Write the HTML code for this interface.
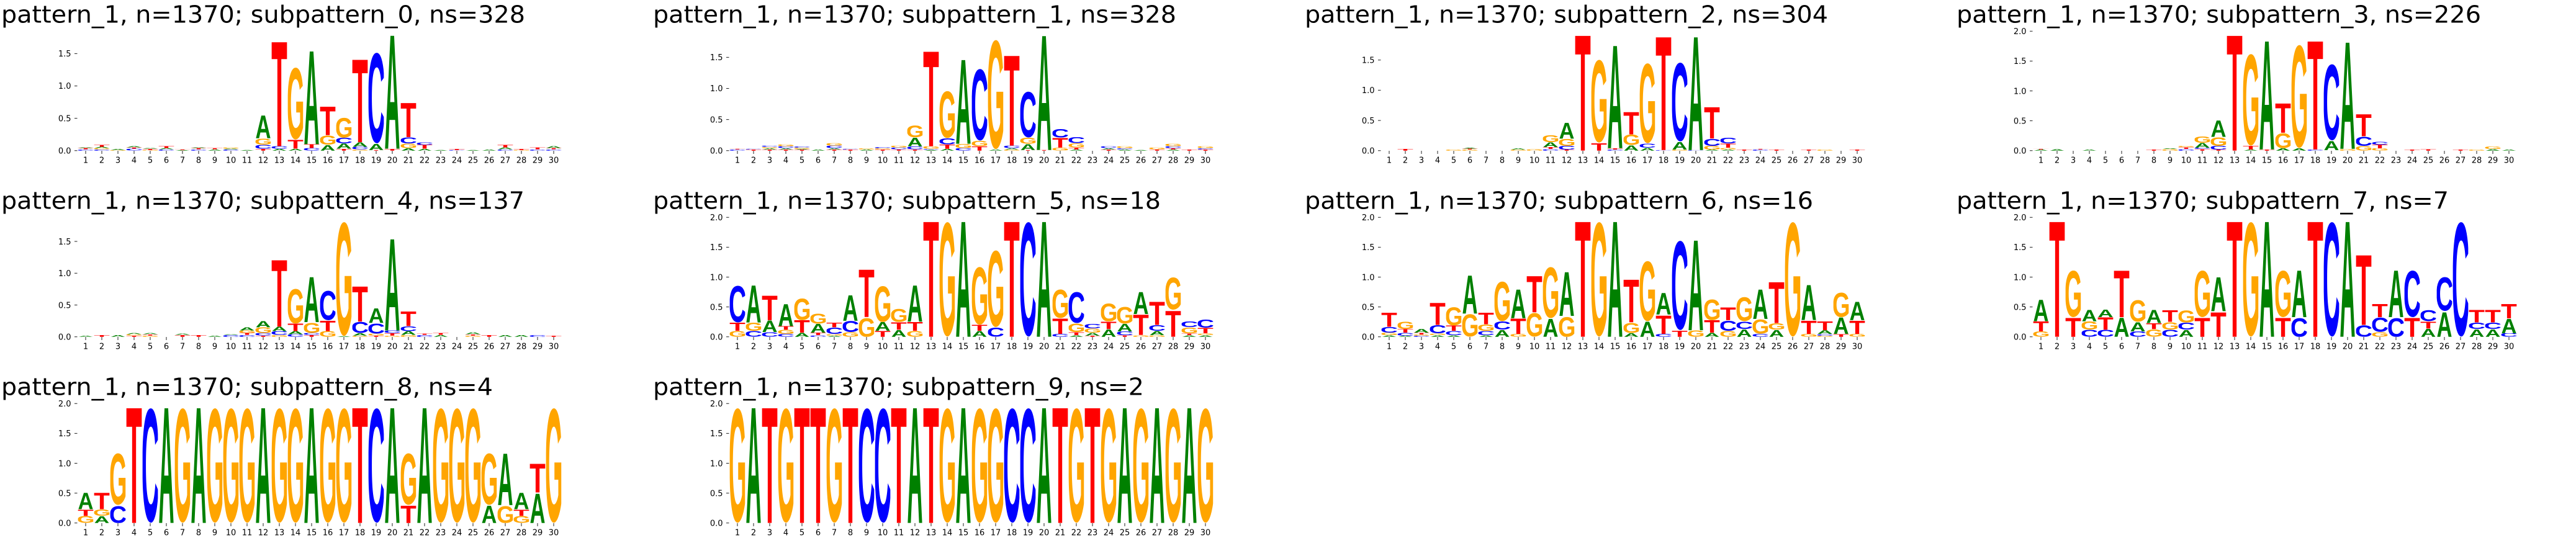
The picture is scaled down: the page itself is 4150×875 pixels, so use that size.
<!DOCTYPE html>
<html><head><meta charset="utf-8"><style>
body{margin:0;background:#fff;width:4150px;height:870px;overflow:hidden}
svg text.ttl{font-family:"DejaVu Sans",sans-serif;font-size:38px;fill:#000}
.yl{font-family:"DejaVu Sans",sans-serif;font-size:13px;fill:#000;text-anchor:end}
.xl text{font-family:"DejaVu Sans",sans-serif;font-size:13px;fill:#000;text-anchor:middle}
.tk{stroke:#222;stroke-width:1;fill:none}
.lg text{font-family:"Liberation Sans",sans-serif;font-weight:bold;font-size:100px}
.lg .A{fill:#008000}.lg .C{fill:#0000ff}.lg .G{fill:#ffa500}.lg .T{fill:#ff0000}
</style></head><body>
<svg width="4150" height="870" viewBox="0 0 4150 870">
<rect width="4150" height="870" fill="#fff"/>

<!-- Panel 1 -->
<g transform="translate(0,0)">
<text class="ttl" x="2" y="36.7" textLength="844" lengthAdjust="spacingAndGlyphs">pattern_1, n=1370; subpattern_0, ns=328</text>
<path class="tk" d="M120,242.8h4.5M120,190.65h4.5M120,138.5h4.5M120,86.35h4.5"/>
<text class="yl" x="114.5" y="247.5">0.0</text><text class="yl" x="114.5" y="195.35">0.5</text><text class="yl" x="114.5" y="143.2">1.0</text><text class="yl" x="114.5" y="91.05">1.5</text>
<path class="tk" d="M138,243v5M164,243v5M190,243v5M216,243v5M242,243v5M268,243v5M294,243v5M320,243v5M346,243v5M372,243v5M398,243v5M424,243v5M450,243v5M476,243v5M502,243v5M528,243v5M554,243v5M580,243v5M606,243v5M632,243v5M658,243v5M684,243v5M710,243v5M736,243v5M762,243v5M788,243v5M814,243v5M840,243v5M866,243v5M892,243v5"/>
<g class="xl"><text x="138" y="262.7">1</text><text x="164" y="262.7">2</text><text x="190" y="262.7">3</text><text x="216" y="262.7">4</text><text x="242" y="262.7">5</text><text x="268" y="262.7">6</text><text x="294" y="262.7">7</text><text x="320" y="262.7">8</text><text x="346" y="262.7">9</text><text x="372" y="262.7">10</text><text x="398" y="262.7">11</text><text x="424" y="262.7">12</text><text x="450" y="262.7">13</text><text x="476" y="262.7">14</text><text x="502" y="262.7">15</text><text x="528" y="262.7">16</text><text x="554" y="262.7">17</text><text x="580" y="262.7">18</text><text x="606" y="262.7">19</text><text x="632" y="262.7">20</text><text x="658" y="262.7">21</text><text x="684" y="262.7">22</text><text x="710" y="262.7">23</text><text x="736" y="262.7">24</text><text x="762" y="262.7">25</text><text x="788" y="262.7">26</text><text x="814" y="262.7">27</text><text x="840" y="262.7">28</text><text x="866" y="262.7">29</text><text x="892" y="262.7">30</text></g>
<g class="lg" transform="translate(112,242.8) scale(26,104.3)">
<svg x=".525" y="-.02" width=".95" height=".02" viewBox="5 -72.8 62 74" preserveAspectRatio="none"><text class="C">C</text></svg>
<svg x=".525" y="-.04" width=".95" height=".02" viewBox="2.4 -71.6 56.2 71.6" preserveAspectRatio="none"><text class="T">T</text></svg>
<svg x=".525" y="-.05" width=".95" height=".01" viewBox="0.5 -71.6 71.2 71.6" preserveAspectRatio="none"><text class="A">A</text></svg>
<svg x="1.525" y="-.02" width=".95" height=".02" viewBox="5 -72.8 62 74" preserveAspectRatio="none"><text class="C">C</text></svg>
<svg x="1.525" y="-.04" width=".95" height=".02" viewBox="5 -72.8 66.6 74" preserveAspectRatio="none"><text class="G">G</text></svg>
<svg x="1.525" y="-.06" width=".95" height=".02" viewBox="0.5 -71.6 71.2 71.6" preserveAspectRatio="none"><text class="A">A</text></svg>
<svg x="1.525" y="-.09" width=".95" height=".03" viewBox="2.4 -71.6 56.2 71.6" preserveAspectRatio="none"><text class="T">T</text></svg>
<svg x="2.525" y="-.01" width=".95" height=".01" viewBox="5 -72.8 66.6 74" preserveAspectRatio="none"><text class="G">G</text></svg>
<svg x="2.525" y="-.03" width=".95" height=".02" viewBox="0.5 -71.6 71.2 71.6" preserveAspectRatio="none"><text class="A">A</text></svg>
<svg x="3.525" y="-.03" width=".95" height=".03" viewBox="5 -72.8 62 74" preserveAspectRatio="none"><text class="C">C</text></svg>
<svg x="3.525" y="-.05" width=".95" height=".02" viewBox="2.4 -71.6 56.2 71.6" preserveAspectRatio="none"><text class="T">T</text></svg>
<svg x="3.525" y="-.07" width=".95" height=".02" viewBox="0.5 -71.6 71.2 71.6" preserveAspectRatio="none"><text class="A">A</text></svg>
<svg x="4.525" y="-.01" width=".95" height=".01" viewBox="5 -72.8 66.6 74" preserveAspectRatio="none"><text class="G">G</text></svg>
<svg x="4.525" y="-.03" width=".95" height=".02" viewBox="2.4 -71.6 56.2 71.6" preserveAspectRatio="none"><text class="T">T</text></svg>
<svg x="4.525" y="-.04" width=".95" height=".01" viewBox="0.5 -71.6 71.2 71.6" preserveAspectRatio="none"><text class="A">A</text></svg>
<svg x="5.525" y="-.02" width=".95" height=".02" viewBox="5 -72.8 62 74" preserveAspectRatio="none"><text class="C">C</text></svg>
<svg x="5.525" y="-.04" width=".95" height=".02" viewBox="0.5 -71.6 71.2 71.6" preserveAspectRatio="none"><text class="A">A</text></svg>
<svg x="5.525" y="-.07" width=".95" height=".03" viewBox="2.4 -71.6 56.2 71.6" preserveAspectRatio="none"><text class="T">T</text></svg>
<svg x="6.525" y="-.01" width=".95" height=".01" viewBox="0.5 -71.6 71.2 71.6" preserveAspectRatio="none"><text class="A">A</text></svg>
<svg x="6.525" y="-.02" width=".95" height=".01" viewBox="2.4 -71.6 56.2 71.6" preserveAspectRatio="none"><text class="T">T</text></svg>
<svg x="7.525" y="-.02" width=".95" height=".02" viewBox="5 -72.8 62 74" preserveAspectRatio="none"><text class="C">C</text></svg>
<svg x="7.525" y="-.04" width=".95" height=".02" viewBox="2.4 -71.6 56.2 71.6" preserveAspectRatio="none"><text class="T">T</text></svg>
<svg x="7.525" y="-.05" width=".95" height=".01" viewBox="0.5 -71.6 71.2 71.6" preserveAspectRatio="none"><text class="A">A</text></svg>
<svg x="8.525" y="-.02" width=".95" height=".02" viewBox="0.5 -71.6 71.2 71.6" preserveAspectRatio="none"><text class="A">A</text></svg>
<svg x="8.525" y="-.04" width=".95" height=".02" viewBox="2.4 -71.6 56.2 71.6" preserveAspectRatio="none"><text class="T">T</text></svg>
<svg x="9.525" y="-.02" width=".95" height=".02" viewBox="5 -72.8 62 74" preserveAspectRatio="none"><text class="C">C</text></svg>
<svg x="9.525" y="-.03" width=".95" height=".01" viewBox="0.5 -71.6 71.2 71.6" preserveAspectRatio="none"><text class="A">A</text></svg>
<svg x="9.525" y="-.05" width=".95" height=".02" viewBox="5 -72.8 66.6 74" preserveAspectRatio="none"><text class="G">G</text></svg>
<svg x="10.525" y="-.01" width=".95" height=".01" viewBox="0.5 -71.6 71.2 71.6" preserveAspectRatio="none"><text class="A">A</text></svg>
<svg x="11.525" y="-.03" width=".95" height=".03" viewBox="2.4 -71.6 56.2 71.6" preserveAspectRatio="none"><text class="T">T</text></svg>
<svg x="11.525" y="-.09" width=".95" height=".06" viewBox="5 -72.8 62 74" preserveAspectRatio="none"><text class="C">C</text></svg>
<svg x="11.525" y="-.19" width=".95" height=".10" viewBox="5 -72.8 66.6 74" preserveAspectRatio="none"><text class="G">G</text></svg>
<svg x="11.525" y="-.55" width=".95" height=".36" viewBox="0.5 -71.6 71.2 71.6" preserveAspectRatio="none"><text class="A">A</text></svg>
<svg x="12.525" y="-.03" width=".95" height=".03" viewBox="0.5 -71.6 71.2 71.6" preserveAspectRatio="none"><text class="A">A</text></svg>
<svg x="12.525" y="-.07" width=".95" height=".04" viewBox="5 -72.8 62 74" preserveAspectRatio="none"><text class="C">C</text></svg>
<svg x="12.525" y="-1.74" width=".95" height="1.67" viewBox="2.4 -71.6 56.2 71.6" preserveAspectRatio="none"><text class="T">T</text></svg>
<svg x="13.525" y="-.03" width=".95" height=".03" viewBox="0.5 -71.6 71.2 71.6" preserveAspectRatio="none"><text class="A">A</text></svg>
<svg x="13.525" y="-.17" width=".95" height=".14" viewBox="2.4 -71.6 56.2 71.6" preserveAspectRatio="none"><text class="T">T</text></svg>
<svg x="13.525" y="-1.33" width=".95" height="1.16" viewBox="5 -72.8 66.6 74" preserveAspectRatio="none"><text class="G">G</text></svg>
<svg x="14.525" y="-.04" width=".95" height=".04" viewBox="5 -72.8 62 74" preserveAspectRatio="none"><text class="C">C</text></svg>
<svg x="14.525" y="-.10" width=".95" height=".06" viewBox="2.4 -71.6 56.2 71.6" preserveAspectRatio="none"><text class="T">T</text></svg>
<svg x="14.525" y="-1.59" width=".95" height="1.49" viewBox="0.5 -71.6 71.2 71.6" preserveAspectRatio="none"><text class="A">A</text></svg>
<svg x="15.525" y="-.09" width=".95" height=".09" viewBox="0.5 -71.6 71.2 71.6" preserveAspectRatio="none"><text class="A">A</text></svg>
<svg x="15.525" y="-.24" width=".95" height=".15" viewBox="5 -72.8 66.6 74" preserveAspectRatio="none"><text class="G">G</text></svg>
<svg x="15.525" y="-.70" width=".95" height=".46" viewBox="2.4 -71.6 56.2 71.6" preserveAspectRatio="none"><text class="T">T</text></svg>
<svg x="16.525" y="-.03" width=".95" height=".03" viewBox="2.4 -71.6 56.2 71.6" preserveAspectRatio="none"><text class="T">T</text></svg>
<svg x="16.525" y="-.11" width=".95" height=".08" viewBox="0.5 -71.6 71.2 71.6" preserveAspectRatio="none"><text class="A">A</text></svg>
<svg x="16.525" y="-.20" width=".95" height=".09" viewBox="5 -72.8 62 74" preserveAspectRatio="none"><text class="C">C</text></svg>
<svg x="16.525" y="-.52" width=".95" height=".32" viewBox="5 -72.8 66.6 74" preserveAspectRatio="none"><text class="G">G</text></svg>
<svg x="17.525" y="-.02" width=".95" height=".02" viewBox="5 -72.8 66.6 74" preserveAspectRatio="none"><text class="G">G</text></svg>
<svg x="17.525" y="-.06" width=".95" height=".04" viewBox="5 -72.8 62 74" preserveAspectRatio="none"><text class="C">C</text></svg>
<svg x="17.525" y="-.13" width=".95" height=".07" viewBox="0.5 -71.6 71.2 71.6" preserveAspectRatio="none"><text class="A">A</text></svg>
<svg x="17.525" y="-1.455" width=".95" height="1.325" viewBox="2.4 -71.6 56.2 71.6" preserveAspectRatio="none"><text class="T">T</text></svg>
<svg x="18.525" y="-.01" width=".95" height=".01" viewBox="2.4 -71.6 56.2 71.6" preserveAspectRatio="none"><text class="T">T</text></svg>
<svg x="18.525" y="-.11" width=".95" height=".10" viewBox="0.5 -71.6 71.2 71.6" preserveAspectRatio="none"><text class="A">A</text></svg>
<svg x="18.525" y="-1.57" width=".95" height="1.46" viewBox="5 -72.8 62 74" preserveAspectRatio="none"><text class="C">C</text></svg>
<svg x="19.525" y="-.03" width=".95" height=".03" viewBox="2.4 -71.6 56.2 71.6" preserveAspectRatio="none"><text class="T">T</text></svg>
<svg x="19.525" y="-1.845" width=".95" height="1.815" viewBox="0.5 -71.6 71.2 71.6" preserveAspectRatio="none"><text class="A">A</text></svg>
<svg x="20.525" y="-.04" width=".95" height=".04" viewBox="0.5 -71.6 71.2 71.6" preserveAspectRatio="none"><text class="A">A</text></svg>
<svg x="20.525" y="-.11" width=".95" height=".07" viewBox="5 -72.8 66.6 74" preserveAspectRatio="none"><text class="G">G</text></svg>
<svg x="20.525" y="-.21" width=".95" height=".10" viewBox="5 -72.8 62 74" preserveAspectRatio="none"><text class="C">C</text></svg>
<svg x="20.525" y="-.755" width=".95" height=".545" viewBox="2.4 -71.6 56.2 71.6" preserveAspectRatio="none"><text class="T">T</text></svg>
<svg x="21.525" y="-.03" width=".95" height=".03" viewBox="0.5 -71.6 71.2 71.6" preserveAspectRatio="none"><text class="A">A</text></svg>
<svg x="21.525" y="-.09" width=".95" height=".06" viewBox="2.4 -71.6 56.2 71.6" preserveAspectRatio="none"><text class="T">T</text></svg>
<svg x="21.525" y="-.13" width=".95" height=".04" viewBox="5 -72.8 62 74" preserveAspectRatio="none"><text class="C">C</text></svg>
<svg x="22.525" y="-.01" width=".95" height=".01" viewBox="0.5 -71.6 71.2 71.6" preserveAspectRatio="none"><text class="A">A</text></svg>
<svg x="23.525" y="-.01" width=".95" height=".01" viewBox="5 -72.8 62 74" preserveAspectRatio="none"><text class="C">C</text></svg>
<svg x="23.525" y="-.03" width=".95" height=".02" viewBox="2.4 -71.6 56.2 71.6" preserveAspectRatio="none"><text class="T">T</text></svg>
<svg x="24.525" y="-.01" width=".95" height=".01" viewBox="0.5 -71.6 71.2 71.6" preserveAspectRatio="none"><text class="A">A</text></svg>
<svg x="25.525" y="-.02" width=".95" height=".02" viewBox="0.5 -71.6 71.2 71.6" preserveAspectRatio="none"><text class="A">A</text></svg>
<svg x="26.525" y="-.02" width=".95" height=".02" viewBox="5 -72.8 62 74" preserveAspectRatio="none"><text class="C">C</text></svg>
<svg x="26.525" y="-.05" width=".95" height=".03" viewBox="0.5 -71.6 71.2 71.6" preserveAspectRatio="none"><text class="A">A</text></svg>
<svg x="26.525" y="-.09" width=".95" height=".04" viewBox="2.4 -71.6 56.2 71.6" preserveAspectRatio="none"><text class="T">T</text></svg>
<svg x="27.525" y="-.01" width=".95" height=".01" viewBox="5 -72.8 66.6 74" preserveAspectRatio="none"><text class="G">G</text></svg>
<svg x="27.525" y="-.03" width=".95" height=".02" viewBox="2.4 -71.6 56.2 71.6" preserveAspectRatio="none"><text class="T">T</text></svg>
<svg x="28.525" y="-.02" width=".95" height=".02" viewBox="5 -72.8 62 74" preserveAspectRatio="none"><text class="C">C</text></svg>
<svg x="28.525" y="-.05" width=".95" height=".03" viewBox="2.4 -71.6 56.2 71.6" preserveAspectRatio="none"><text class="T">T</text></svg>
<svg x="29.525" y="-.02" width=".95" height=".02" viewBox="5 -72.8 62 74" preserveAspectRatio="none"><text class="C">C</text></svg>
<svg x="29.525" y="-.04" width=".95" height=".02" viewBox="2.4 -71.6 56.2 71.6" preserveAspectRatio="none"><text class="T">T</text></svg>
<svg x="29.525" y="-.07" width=".95" height=".03" viewBox="0.5 -71.6 71.2 71.6" preserveAspectRatio="none"><text class="A">A</text></svg>
</g>
</g>

<!-- Panel 2 -->
<g transform="translate(1050,0)">
<text class="ttl" x="2" y="36.7" textLength="843" lengthAdjust="spacingAndGlyphs">pattern_1, n=1370; subpattern_1, ns=328</text>
<path class="tk" d="M120,242.8h4.5M120,192.65h4.5M120,142.5h4.5M120,92.35h4.5"/>
<text class="yl" x="114.5" y="247.5">0.0</text><text class="yl" x="114.5" y="197.35">0.5</text><text class="yl" x="114.5" y="147.2">1.0</text><text class="yl" x="114.5" y="97.05">1.5</text>
<path class="tk" d="M138,243v5M164,243v5M190,243v5M216,243v5M242,243v5M268,243v5M294,243v5M320,243v5M346,243v5M372,243v5M398,243v5M424,243v5M450,243v5M476,243v5M502,243v5M528,243v5M554,243v5M580,243v5M606,243v5M632,243v5M658,243v5M684,243v5M710,243v5M736,243v5M762,243v5M788,243v5M814,243v5M840,243v5M866,243v5M892,243v5"/>
<g class="xl"><text x="138" y="262.7">1</text><text x="164" y="262.7">2</text><text x="190" y="262.7">3</text><text x="216" y="262.7">4</text><text x="242" y="262.7">5</text><text x="268" y="262.7">6</text><text x="294" y="262.7">7</text><text x="320" y="262.7">8</text><text x="346" y="262.7">9</text><text x="372" y="262.7">10</text><text x="398" y="262.7">11</text><text x="424" y="262.7">12</text><text x="450" y="262.7">13</text><text x="476" y="262.7">14</text><text x="502" y="262.7">15</text><text x="528" y="262.7">16</text><text x="554" y="262.7">17</text><text x="580" y="262.7">18</text><text x="606" y="262.7">19</text><text x="632" y="262.7">20</text><text x="658" y="262.7">21</text><text x="684" y="262.7">22</text><text x="710" y="262.7">23</text><text x="736" y="262.7">24</text><text x="762" y="262.7">25</text><text x="788" y="262.7">26</text><text x="814" y="262.7">27</text><text x="840" y="262.7">28</text><text x="866" y="262.7">29</text><text x="892" y="262.7">30</text></g>
<g class="lg" transform="translate(112,242.8) scale(26,100.3)">
<svg x=".525" y="-.02" width=".95" height=".02" viewBox="5 -72.8 62 74" preserveAspectRatio="none"><text class="C">C</text></svg>
<svg x=".525" y="-.03" width=".95" height=".01" viewBox="2.4 -71.6 56.2 71.6" preserveAspectRatio="none"><text class="T">T</text></svg>
<svg x="1.525" y="-.02" width=".95" height=".02" viewBox="2.4 -71.6 56.2 71.6" preserveAspectRatio="none"><text class="T">T</text></svg>
<svg x="1.525" y="-.03" width=".95" height=".01" viewBox="5 -72.8 62 74" preserveAspectRatio="none"><text class="C">C</text></svg>
<svg x="2.525" y="-.02" width=".95" height=".02" viewBox="2.4 -71.6 56.2 71.6" preserveAspectRatio="none"><text class="T">T</text></svg>
<svg x="2.525" y="-.04" width=".95" height=".02" viewBox="0.5 -71.6 71.2 71.6" preserveAspectRatio="none"><text class="A">A</text></svg>
<svg x="2.525" y="-.06" width=".95" height=".02" viewBox="5 -72.8 66.6 74" preserveAspectRatio="none"><text class="G">G</text></svg>
<svg x="2.525" y="-.08" width=".95" height=".02" viewBox="5 -72.8 62 74" preserveAspectRatio="none"><text class="C">C</text></svg>
<svg x="3.525" y="-.02" width=".95" height=".02" viewBox="2.4 -71.6 56.2 71.6" preserveAspectRatio="none"><text class="T">T</text></svg>
<svg x="3.525" y="-.04" width=".95" height=".02" viewBox="0.5 -71.6 71.2 71.6" preserveAspectRatio="none"><text class="A">A</text></svg>
<svg x="3.525" y="-.07" width=".95" height=".03" viewBox="5 -72.8 62 74" preserveAspectRatio="none"><text class="C">C</text></svg>
<svg x="3.525" y="-.10" width=".95" height=".03" viewBox="5 -72.8 66.6 74" preserveAspectRatio="none"><text class="G">G</text></svg>
<svg x="4.525" y="-.02" width=".95" height=".02" viewBox="2.4 -71.6 56.2 71.6" preserveAspectRatio="none"><text class="T">T</text></svg>
<svg x="4.525" y="-.03" width=".95" height=".01" viewBox="0.5 -71.6 71.2 71.6" preserveAspectRatio="none"><text class="A">A</text></svg>
<svg x="4.525" y="-.05" width=".95" height=".02" viewBox="5 -72.8 66.6 74" preserveAspectRatio="none"><text class="G">G</text></svg>
<svg x="4.525" y="-.07" width=".95" height=".02" viewBox="5 -72.8 62 74" preserveAspectRatio="none"><text class="C">C</text></svg>
<svg x="5.525" y="-.02" width=".95" height=".02" viewBox="0.5 -71.6 71.2 71.6" preserveAspectRatio="none"><text class="A">A</text></svg>
<svg x="6.525" y="-.02" width=".95" height=".02" viewBox="2.4 -71.6 56.2 71.6" preserveAspectRatio="none"><text class="T">T</text></svg>
<svg x="6.525" y="-.04" width=".95" height=".02" viewBox="0.5 -71.6 71.2 71.6" preserveAspectRatio="none"><text class="A">A</text></svg>
<svg x="6.525" y="-.08" width=".95" height=".04" viewBox="5 -72.8 62 74" preserveAspectRatio="none"><text class="C">C</text></svg>
<svg x="6.525" y="-.12" width=".95" height=".04" viewBox="5 -72.8 66.6 74" preserveAspectRatio="none"><text class="G">G</text></svg>
<svg x="7.525" y="-.02" width=".95" height=".02" viewBox="2.4 -71.6 56.2 71.6" preserveAspectRatio="none"><text class="T">T</text></svg>
<svg x="7.525" y="-.03" width=".95" height=".01" viewBox="5 -72.8 62 74" preserveAspectRatio="none"><text class="C">C</text></svg>
<svg x="8.525" y="-.02" width=".95" height=".02" viewBox="0.5 -71.6 71.2 71.6" preserveAspectRatio="none"><text class="A">A</text></svg>
<svg x="8.525" y="-.04" width=".95" height=".02" viewBox="5 -72.8 66.6 74" preserveAspectRatio="none"><text class="G">G</text></svg>
<svg x="9.525" y="-.02" width=".95" height=".02" viewBox="2.4 -71.6 56.2 71.6" preserveAspectRatio="none"><text class="T">T</text></svg>
<svg x="9.525" y="-.04" width=".95" height=".02" viewBox="5 -72.8 66.6 74" preserveAspectRatio="none"><text class="G">G</text></svg>
<svg x="9.525" y="-.06" width=".95" height=".02" viewBox="5 -72.8 62 74" preserveAspectRatio="none"><text class="C">C</text></svg>
<svg x="10.525" y="-.02" width=".95" height=".02" viewBox="2.4 -71.6 56.2 71.6" preserveAspectRatio="none"><text class="T">T</text></svg>
<svg x="10.525" y="-.05" width=".95" height=".03" viewBox="5 -72.8 62 74" preserveAspectRatio="none"><text class="C">C</text></svg>
<svg x="10.525" y="-.08" width=".95" height=".03" viewBox="5 -72.8 66.6 74" preserveAspectRatio="none"><text class="G">G</text></svg>
<svg x="11.525" y="-.02" width=".95" height=".02" viewBox="2.4 -71.6 56.2 71.6" preserveAspectRatio="none"><text class="T">T</text></svg>
<svg x="11.525" y="-.07" width=".95" height=".05" viewBox="5 -72.8 62 74" preserveAspectRatio="none"><text class="C">C</text></svg>
<svg x="11.525" y="-.216" width=".95" height=".146" viewBox="0.5 -71.6 71.2 71.6" preserveAspectRatio="none"><text class="A">A</text></svg>
<svg x="11.525" y="-.415" width=".95" height=".199" viewBox="5 -72.8 66.6 74" preserveAspectRatio="none"><text class="G">G</text></svg>
<svg x="12.525" y="-.015" width=".95" height=".015" viewBox="0.5 -71.6 71.2 71.6" preserveAspectRatio="none"><text class="A">A</text></svg>
<svg x="12.525" y="-.03" width=".95" height=".015" viewBox="5 -72.8 62 74" preserveAspectRatio="none"><text class="C">C</text></svg>
<svg x="12.525" y="-.07" width=".95" height=".04" viewBox="5 -72.8 66.6 74" preserveAspectRatio="none"><text class="G">G</text></svg>
<svg x="12.525" y="-1.65" width=".95" height="1.58" viewBox="2.4 -71.6 56.2 71.6" preserveAspectRatio="none"><text class="T">T</text></svg>
<svg x="13.525" y="-.03" width=".95" height=".03" viewBox="0.5 -71.6 71.2 71.6" preserveAspectRatio="none"><text class="A">A</text></svg>
<svg x="13.525" y="-.10" width=".95" height=".07" viewBox="2.4 -71.6 56.2 71.6" preserveAspectRatio="none"><text class="T">T</text></svg>
<svg x="13.525" y="-.20" width=".95" height=".10" viewBox="5 -72.8 62 74" preserveAspectRatio="none"><text class="C">C</text></svg>
<svg x="13.525" y="-.99" width=".95" height=".79" viewBox="5 -72.8 66.6 74" preserveAspectRatio="none"><text class="G">G</text></svg>
<svg x="14.525" y="-.04" width=".95" height=".04" viewBox="5 -72.8 62 74" preserveAspectRatio="none"><text class="C">C</text></svg>
<svg x="14.525" y="-.11" width=".95" height=".07" viewBox="5 -72.8 66.6 74" preserveAspectRatio="none"><text class="G">G</text></svg>
<svg x="14.525" y="-1.51" width=".95" height="1.40" viewBox="0.5 -71.6 71.2 71.6" preserveAspectRatio="none"><text class="A">A</text></svg>
<svg x="15.525" y="-.07" width=".95" height=".07" viewBox="2.4 -71.6 56.2 71.6" preserveAspectRatio="none"><text class="T">T</text></svg>
<svg x="15.525" y="-.16" width=".95" height=".09" viewBox="5 -72.8 66.6 74" preserveAspectRatio="none"><text class="G">G</text></svg>
<svg x="15.525" y="-1.36" width=".95" height="1.20" viewBox="5 -72.8 62 74" preserveAspectRatio="none"><text class="C">C</text></svg>
<svg x="16.525" y="-.02" width=".95" height=".02" viewBox="0.5 -71.6 71.2 71.6" preserveAspectRatio="none"><text class="A">A</text></svg>
<svg x="16.525" y="-1.85" width=".95" height="1.83" viewBox="5 -72.8 66.6 74" preserveAspectRatio="none"><text class="G">G</text></svg>
<svg x="17.525" y="-.02" width=".95" height=".02" viewBox="5 -72.8 66.6 74" preserveAspectRatio="none"><text class="G">G</text></svg>
<svg x="17.525" y="-.04" width=".95" height=".02" viewBox="0.5 -71.6 71.2 71.6" preserveAspectRatio="none"><text class="A">A</text></svg>
<svg x="17.525" y="-.08" width=".95" height=".04" viewBox="5 -72.8 62 74" preserveAspectRatio="none"><text class="C">C</text></svg>
<svg x="17.525" y="-1.58" width=".95" height="1.50" viewBox="2.4 -71.6 56.2 71.6" preserveAspectRatio="none"><text class="T">T</text></svg>
<svg x="18.525" y="-.01" width=".95" height=".01" viewBox="2.4 -71.6 56.2 71.6" preserveAspectRatio="none"><text class="T">T</text></svg>
<svg x="18.525" y="-.11" width=".95" height=".10" viewBox="0.5 -71.6 71.2 71.6" preserveAspectRatio="none"><text class="A">A</text></svg>
<svg x="18.525" y="-.21" width=".95" height=".10" viewBox="5 -72.8 66.6 74" preserveAspectRatio="none"><text class="G">G</text></svg>
<svg x="18.525" y="-.98" width=".95" height=".77" viewBox="5 -72.8 62 74" preserveAspectRatio="none"><text class="C">C</text></svg>
<svg x="19.525" y="-.01" width=".95" height=".01" viewBox="2.4 -71.6 56.2 71.6" preserveAspectRatio="none"><text class="T">T</text></svg>
<svg x="19.525" y="-1.915" width=".95" height="1.905" viewBox="0.5 -71.6 71.2 71.6" preserveAspectRatio="none"><text class="A">A</text></svg>
<svg x="20.525" y="-.05" width=".95" height=".05" viewBox="5 -72.8 66.6 74" preserveAspectRatio="none"><text class="G">G</text></svg>
<svg x="20.525" y="-.21" width=".95" height=".16" viewBox="2.4 -71.6 56.2 71.6" preserveAspectRatio="none"><text class="T">T</text></svg>
<svg x="20.525" y="-.35" width=".95" height=".14" viewBox="5 -72.8 62 74" preserveAspectRatio="none"><text class="C">C</text></svg>
<svg x="21.525" y="-.02" width=".95" height=".02" viewBox="0.5 -71.6 71.2 71.6" preserveAspectRatio="none"><text class="A">A</text></svg>
<svg x="21.525" y="-.05" width=".95" height=".03" viewBox="2.4 -71.6 56.2 71.6" preserveAspectRatio="none"><text class="T">T</text></svg>
<svg x="21.525" y="-.12" width=".95" height=".07" viewBox="5 -72.8 66.6 74" preserveAspectRatio="none"><text class="G">G</text></svg>
<svg x="21.525" y="-.22" width=".95" height=".10" viewBox="5 -72.8 62 74" preserveAspectRatio="none"><text class="C">C</text></svg>
<svg x="23.525" y="-.02" width=".95" height=".02" viewBox="2.4 -71.6 56.2 71.6" preserveAspectRatio="none"><text class="T">T</text></svg>
<svg x="23.525" y="-.04" width=".95" height=".02" viewBox="0.5 -71.6 71.2 71.6" preserveAspectRatio="none"><text class="A">A</text></svg>
<svg x="23.525" y="-.07" width=".95" height=".03" viewBox="5 -72.8 62 74" preserveAspectRatio="none"><text class="C">C</text></svg>
<svg x="24.525" y="-.02" width=".95" height=".02" viewBox="0.5 -71.6 71.2 71.6" preserveAspectRatio="none"><text class="A">A</text></svg>
<svg x="24.525" y="-.04" width=".95" height=".02" viewBox="5 -72.8 62 74" preserveAspectRatio="none"><text class="C">C</text></svg>
<svg x="24.525" y="-.07" width=".95" height=".03" viewBox="5 -72.8 66.6 74" preserveAspectRatio="none"><text class="G">G</text></svg>
<svg x="25.525" y="-.01" width=".95" height=".01" viewBox="0.5 -71.6 71.2 71.6" preserveAspectRatio="none"><text class="A">A</text></svg>
<svg x="26.525" y="-.02" width=".95" height=".02" viewBox="2.4 -71.6 56.2 71.6" preserveAspectRatio="none"><text class="T">T</text></svg>
<svg x="26.525" y="-.05" width=".95" height=".03" viewBox="5 -72.8 66.6 74" preserveAspectRatio="none"><text class="G">G</text></svg>
<svg x="27.525" y="-.02" width=".95" height=".02" viewBox="0.5 -71.6 71.2 71.6" preserveAspectRatio="none"><text class="A">A</text></svg>
<svg x="27.525" y="-.04" width=".95" height=".02" viewBox="2.4 -71.6 56.2 71.6" preserveAspectRatio="none"><text class="T">T</text></svg>
<svg x="27.525" y="-.07" width=".95" height=".03" viewBox="5 -72.8 62 74" preserveAspectRatio="none"><text class="C">C</text></svg>
<svg x="27.525" y="-.11" width=".95" height=".04" viewBox="5 -72.8 66.6 74" preserveAspectRatio="none"><text class="G">G</text></svg>
<svg x="28.525" y="-.02" width=".95" height=".02" viewBox="2.4 -71.6 56.2 71.6" preserveAspectRatio="none"><text class="T">T</text></svg>
<svg x="29.525" y="-.02" width=".95" height=".02" viewBox="2.4 -71.6 56.2 71.6" preserveAspectRatio="none"><text class="T">T</text></svg>
<svg x="29.525" y="-.04" width=".95" height=".02" viewBox="5 -72.8 62 74" preserveAspectRatio="none"><text class="C">C</text></svg>
<svg x="29.525" y="-.07" width=".95" height=".03" viewBox="5 -72.8 66.6 74" preserveAspectRatio="none"><text class="G">G</text></svg>
</g>
</g>

<!-- Panel 3 -->
<g transform="translate(2100,0)">
<text class="ttl" x="2" y="36.7" textLength="843" lengthAdjust="spacingAndGlyphs">pattern_1, n=1370; subpattern_2, ns=304</text>
<path class="tk" d="M120,242.8h4.5M120,194.1h4.5M120,145.4h4.5M120,96.7h4.5"/>
<text class="yl" x="114.5" y="247.5">0.0</text><text class="yl" x="114.5" y="198.8">0.5</text><text class="yl" x="114.5" y="150.1">1.0</text><text class="yl" x="114.5" y="101.4">1.5</text>
<path class="tk" d="M138,243v5M164,243v5M190,243v5M216,243v5M242,243v5M268,243v5M294,243v5M320,243v5M346,243v5M372,243v5M398,243v5M424,243v5M450,243v5M476,243v5M502,243v5M528,243v5M554,243v5M580,243v5M606,243v5M632,243v5M658,243v5M684,243v5M710,243v5M736,243v5M762,243v5M788,243v5M814,243v5M840,243v5M866,243v5M892,243v5"/>
<g class="xl"><text x="138" y="262.7">1</text><text x="164" y="262.7">2</text><text x="190" y="262.7">3</text><text x="216" y="262.7">4</text><text x="242" y="262.7">5</text><text x="268" y="262.7">6</text><text x="294" y="262.7">7</text><text x="320" y="262.7">8</text><text x="346" y="262.7">9</text><text x="372" y="262.7">10</text><text x="398" y="262.7">11</text><text x="424" y="262.7">12</text><text x="450" y="262.7">13</text><text x="476" y="262.7">14</text><text x="502" y="262.7">15</text><text x="528" y="262.7">16</text><text x="554" y="262.7">17</text><text x="580" y="262.7">18</text><text x="606" y="262.7">19</text><text x="632" y="262.7">20</text><text x="658" y="262.7">21</text><text x="684" y="262.7">22</text><text x="710" y="262.7">23</text><text x="736" y="262.7">24</text><text x="762" y="262.7">25</text><text x="788" y="262.7">26</text><text x="814" y="262.7">27</text><text x="840" y="262.7">28</text><text x="866" y="262.7">29</text><text x="892" y="262.7">30</text></g>
<g class="lg" transform="translate(112,242.8) scale(26,97.4)">
<svg x="1.525" y="-.03" width=".95" height=".03" viewBox="2.4 -71.6 56.2 71.6" preserveAspectRatio="none"><text class="T">T</text></svg>
<svg x="4.525" y="-.02" width=".95" height=".02" viewBox="5 -72.8 66.6 74" preserveAspectRatio="none"><text class="G">G</text></svg>
<svg x="5.525" y="-.02" width=".95" height=".02" viewBox="5 -72.8 66.6 74" preserveAspectRatio="none"><text class="G">G</text></svg>
<svg x="5.525" y="-.035" width=".95" height=".015" viewBox="2.4 -71.6 56.2 71.6" preserveAspectRatio="none"><text class="T">T</text></svg>
<svg x="5.525" y="-.05" width=".95" height=".015" viewBox="0.5 -71.6 71.2 71.6" preserveAspectRatio="none"><text class="A">A</text></svg>
<svg x="8.525" y="-.02" width=".95" height=".02" viewBox="5 -72.8 66.6 74" preserveAspectRatio="none"><text class="G">G</text></svg>
<svg x="8.525" y="-.04" width=".95" height=".02" viewBox="0.5 -71.6 71.2 71.6" preserveAspectRatio="none"><text class="A">A</text></svg>
<svg x="9.525" y="-.03" width=".95" height=".03" viewBox="5 -72.8 66.6 74" preserveAspectRatio="none"><text class="G">G</text></svg>
<svg x="10.525" y="-.03" width=".95" height=".03" viewBox="5 -72.8 62 74" preserveAspectRatio="none"><text class="C">C</text></svg>
<svg x="10.525" y="-.06" width=".95" height=".03" viewBox="2.4 -71.6 56.2 71.6" preserveAspectRatio="none"><text class="T">T</text></svg>
<svg x="10.525" y="-.14" width=".95" height=".08" viewBox="0.5 -71.6 71.2 71.6" preserveAspectRatio="none"><text class="A">A</text></svg>
<svg x="10.525" y="-.26" width=".95" height=".12" viewBox="5 -72.8 66.6 74" preserveAspectRatio="none"><text class="G">G</text></svg>
<svg x="11.525" y="-.02" width=".95" height=".02" viewBox="2.4 -71.6 56.2 71.6" preserveAspectRatio="none"><text class="T">T</text></svg>
<svg x="11.525" y="-.08" width=".95" height=".06" viewBox="5 -72.8 62 74" preserveAspectRatio="none"><text class="C">C</text></svg>
<svg x="11.525" y="-.20" width=".95" height=".12" viewBox="5 -72.8 66.6 74" preserveAspectRatio="none"><text class="G">G</text></svg>
<svg x="11.525" y="-.47" width=".95" height=".27" viewBox="0.5 -71.6 71.2 71.6" preserveAspectRatio="none"><text class="A">A</text></svg>
<svg x="12.525" y="-1.976" width=".95" height="1.976" viewBox="2.4 -71.6 56.2 71.6" preserveAspectRatio="none"><text class="T">T</text></svg>
<svg x="13.525" y="-.13" width=".95" height=".13" viewBox="2.4 -71.6 56.2 71.6" preserveAspectRatio="none"><text class="T">T</text></svg>
<svg x="13.525" y="-1.56" width=".95" height="1.43" viewBox="5 -72.8 66.6 74" preserveAspectRatio="none"><text class="G">G</text></svg>
<svg x="14.525" y="-.02" width=".95" height=".02" viewBox="5 -72.8 62 74" preserveAspectRatio="none"><text class="C">C</text></svg>
<svg x="14.525" y="-.04" width=".95" height=".02" viewBox="2.4 -71.6 56.2 71.6" preserveAspectRatio="none"><text class="T">T</text></svg>
<svg x="14.525" y="-1.80" width=".95" height="1.76" viewBox="0.5 -71.6 71.2 71.6" preserveAspectRatio="none"><text class="A">A</text></svg>
<svg x="15.525" y="-.09" width=".95" height=".09" viewBox="0.5 -71.6 71.2 71.6" preserveAspectRatio="none"><text class="A">A</text></svg>
<svg x="15.525" y="-.27" width=".95" height=".18" viewBox="5 -72.8 66.6 74" preserveAspectRatio="none"><text class="G">G</text></svg>
<svg x="15.525" y="-.65" width=".95" height=".38" viewBox="2.4 -71.6 56.2 71.6" preserveAspectRatio="none"><text class="T">T</text></svg>
<svg x="16.525" y="-.05" width=".95" height=".05" viewBox="0.5 -71.6 71.2 71.6" preserveAspectRatio="none"><text class="A">A</text></svg>
<svg x="16.525" y="-.12" width=".95" height=".07" viewBox="5 -72.8 62 74" preserveAspectRatio="none"><text class="C">C</text></svg>
<svg x="16.525" y="-1.5" width=".95" height="1.38" viewBox="5 -72.8 66.6 74" preserveAspectRatio="none"><text class="G">G</text></svg>
<svg x="17.525" y="-.01" width=".95" height=".01" viewBox="5 -72.8 62 74" preserveAspectRatio="none"><text class="C">C</text></svg>
<svg x="17.525" y="-1.95" width=".95" height="1.94" viewBox="2.4 -71.6 56.2 71.6" preserveAspectRatio="none"><text class="T">T</text></svg>
<svg x="18.525" y="-.02" width=".95" height=".02" viewBox="5 -72.8 66.6 74" preserveAspectRatio="none"><text class="G">G</text></svg>
<svg x="18.525" y="-.15" width=".95" height=".13" viewBox="0.5 -71.6 71.2 71.6" preserveAspectRatio="none"><text class="A">A</text></svg>
<svg x="18.525" y="-1.51" width=".95" height="1.36" viewBox="5 -72.8 62 74" preserveAspectRatio="none"><text class="C">C</text></svg>
<svg x="19.525" y="-.01" width=".95" height=".01" viewBox="5 -72.8 62 74" preserveAspectRatio="none"><text class="C">C</text></svg>
<svg x="19.525" y="-1.95" width=".95" height="1.94" viewBox="0.5 -71.6 71.2 71.6" preserveAspectRatio="none"><text class="A">A</text></svg>
<svg x="20.525" y="-.02" width=".95" height=".02" viewBox="0.5 -71.6 71.2 71.6" preserveAspectRatio="none"><text class="A">A</text></svg>
<svg x="20.525" y="-.08" width=".95" height=".06" viewBox="5 -72.8 66.6 74" preserveAspectRatio="none"><text class="G">G</text></svg>
<svg x="20.525" y="-.20" width=".95" height=".12" viewBox="5 -72.8 62 74" preserveAspectRatio="none"><text class="C">C</text></svg>
<svg x="20.525" y="-.74" width=".95" height=".54" viewBox="2.4 -71.6 56.2 71.6" preserveAspectRatio="none"><text class="T">T</text></svg>
<svg x="21.525" y="-.02" width=".95" height=".02" viewBox="0.5 -71.6 71.2 71.6" preserveAspectRatio="none"><text class="A">A</text></svg>
<svg x="21.525" y="-.05" width=".95" height=".03" viewBox="5 -72.8 66.6 74" preserveAspectRatio="none"><text class="G">G</text></svg>
<svg x="21.525" y="-.12" width=".95" height=".07" viewBox="2.4 -71.6 56.2 71.6" preserveAspectRatio="none"><text class="T">T</text></svg>
<svg x="21.525" y="-.22" width=".95" height=".10" viewBox="5 -72.8 62 74" preserveAspectRatio="none"><text class="C">C</text></svg>
<svg x="22.525" y="-.02" width=".95" height=".02" viewBox="2.4 -71.6 56.2 71.6" preserveAspectRatio="none"><text class="T">T</text></svg>
<svg x="23.525" y="-.02" width=".95" height=".02" viewBox="5 -72.8 62 74" preserveAspectRatio="none"><text class="C">C</text></svg>
<svg x="23.525" y="-.03" width=".95" height=".01" viewBox="2.4 -71.6 56.2 71.6" preserveAspectRatio="none"><text class="T">T</text></svg>
<svg x="24.525" y="-.02" width=".95" height=".02" viewBox="2.4 -71.6 56.2 71.6" preserveAspectRatio="none"><text class="T">T</text></svg>
<svg x="26.525" y="-.02" width=".95" height=".02" viewBox="2.4 -71.6 56.2 71.6" preserveAspectRatio="none"><text class="T">T</text></svg>
<svg x="27.525" y="-.02" width=".95" height=".02" viewBox="5 -72.8 66.6 74" preserveAspectRatio="none"><text class="G">G</text></svg>
<svg x="29.525" y="-.02" width=".95" height=".02" viewBox="2.4 -71.6 56.2 71.6" preserveAspectRatio="none"><text class="T">T</text></svg>
</g>
</g>

<!-- Panel 4 -->
<g transform="translate(3150,0)">
<text class="ttl" x="2" y="36.7" textLength="845" lengthAdjust="spacingAndGlyphs">pattern_1, n=1370; subpattern_3, ns=226</text>
<path class="tk" d="M120,242.8h4.5M120,194.68h4.5M120,146.55h4.5M120,98.43h4.5M120,50.3h4.5"/>
<text class="yl" x="114.5" y="247.5">0.0</text><text class="yl" x="114.5" y="199.38">0.5</text><text class="yl" x="114.5" y="151.25">1.0</text><text class="yl" x="114.5" y="103.13">1.5</text><text class="yl" x="114.5" y="55">2.0</text>
<path class="tk" d="M138,243v5M164,243v5M190,243v5M216,243v5M242,243v5M268,243v5M294,243v5M320,243v5M346,243v5M372,243v5M398,243v5M424,243v5M450,243v5M476,243v5M502,243v5M528,243v5M554,243v5M580,243v5M606,243v5M632,243v5M658,243v5M684,243v5M710,243v5M736,243v5M762,243v5M788,243v5M814,243v5M840,243v5M866,243v5M892,243v5"/>
<g class="xl"><text x="138" y="262.7">1</text><text x="164" y="262.7">2</text><text x="190" y="262.7">3</text><text x="216" y="262.7">4</text><text x="242" y="262.7">5</text><text x="268" y="262.7">6</text><text x="294" y="262.7">7</text><text x="320" y="262.7">8</text><text x="346" y="262.7">9</text><text x="372" y="262.7">10</text><text x="398" y="262.7">11</text><text x="424" y="262.7">12</text><text x="450" y="262.7">13</text><text x="476" y="262.7">14</text><text x="502" y="262.7">15</text><text x="528" y="262.7">16</text><text x="554" y="262.7">17</text><text x="580" y="262.7">18</text><text x="606" y="262.7">19</text><text x="632" y="262.7">20</text><text x="658" y="262.7">21</text><text x="684" y="262.7">22</text><text x="710" y="262.7">23</text><text x="736" y="262.7">24</text><text x="762" y="262.7">25</text><text x="788" y="262.7">26</text><text x="814" y="262.7">27</text><text x="840" y="262.7">28</text><text x="866" y="262.7">29</text><text x="892" y="262.7">30</text></g>
<g class="lg" transform="translate(112,242.8) scale(26,96.25)">
<svg x=".525" y="-.02" width=".95" height=".02" viewBox="0.5 -71.6 71.2 71.6" preserveAspectRatio="none"><text class="A">A</text></svg>
<svg x=".525" y="-.03" width=".95" height=".01" viewBox="2.4 -71.6 56.2 71.6" preserveAspectRatio="none"><text class="T">T</text></svg>
<svg x="1.525" y="-.03" width=".95" height=".03" viewBox="0.5 -71.6 71.2 71.6" preserveAspectRatio="none"><text class="A">A</text></svg>
<svg x="3.525" y="-.02" width=".95" height=".02" viewBox="0.5 -71.6 71.2 71.6" preserveAspectRatio="none"><text class="A">A</text></svg>
<svg x="7.525" y="-.02" width=".95" height=".02" viewBox="2.4 -71.6 56.2 71.6" preserveAspectRatio="none"><text class="T">T</text></svg>
<svg x="8.525" y="-.03" width=".95" height=".03" viewBox="5 -72.8 66.6 74" preserveAspectRatio="none"><text class="G">G</text></svg>
<svg x="8.525" y="-.04" width=".95" height=".01" viewBox="0.5 -71.6 71.2 71.6" preserveAspectRatio="none"><text class="A">A</text></svg>
<svg x="9.525" y="-.03" width=".95" height=".03" viewBox="5 -72.8 62 74" preserveAspectRatio="none"><text class="C">C</text></svg>
<svg x="9.525" y="-.06" width=".95" height=".03" viewBox="2.4 -71.6 56.2 71.6" preserveAspectRatio="none"><text class="T">T</text></svg>
<svg x="9.525" y="-.08" width=".95" height=".02" viewBox="5 -72.8 66.6 74" preserveAspectRatio="none"><text class="G">G</text></svg>
<svg x="10.525" y="-.03" width=".95" height=".03" viewBox="2.4 -71.6 56.2 71.6" preserveAspectRatio="none"><text class="T">T</text></svg>
<svg x="10.525" y="-.05" width=".95" height=".02" viewBox="5 -72.8 62 74" preserveAspectRatio="none"><text class="C">C</text></svg>
<svg x="10.525" y="-.13" width=".95" height=".08" viewBox="0.5 -71.6 71.2 71.6" preserveAspectRatio="none"><text class="A">A</text></svg>
<svg x="10.525" y="-.24" width=".95" height=".11" viewBox="5 -72.8 66.6 74" preserveAspectRatio="none"><text class="G">G</text></svg>
<svg x="11.525" y="-.02" width=".95" height=".02" viewBox="2.4 -71.6 56.2 71.6" preserveAspectRatio="none"><text class="T">T</text></svg>
<svg x="11.525" y="-.08" width=".95" height=".06" viewBox="5 -72.8 62 74" preserveAspectRatio="none"><text class="C">C</text></svg>
<svg x="11.525" y="-.23" width=".95" height=".15" viewBox="5 -72.8 66.6 74" preserveAspectRatio="none"><text class="G">G</text></svg>
<svg x="11.525" y="-.51" width=".95" height=".28" viewBox="0.5 -71.6 71.2 71.6" preserveAspectRatio="none"><text class="A">A</text></svg>
<svg x="12.525" y="-2" width=".95" height="2" viewBox="2.4 -71.6 56.2 71.6" preserveAspectRatio="none"><text class="T">T</text></svg>
<svg x="13.525" y="-.02" width=".95" height=".02" viewBox="0.5 -71.6 71.2 71.6" preserveAspectRatio="none"><text class="A">A</text></svg>
<svg x="13.525" y="-.08" width=".95" height=".06" viewBox="2.4 -71.6 56.2 71.6" preserveAspectRatio="none"><text class="T">T</text></svg>
<svg x="13.525" y="-1.68" width=".95" height="1.60" viewBox="5 -72.8 66.6 74" preserveAspectRatio="none"><text class="G">G</text></svg>
<svg x="14.525" y="-.02" width=".95" height=".02" viewBox="2.4 -71.6 56.2 71.6" preserveAspectRatio="none"><text class="T">T</text></svg>
<svg x="14.525" y="-1.9" width=".95" height="1.88" viewBox="0.5 -71.6 71.2 71.6" preserveAspectRatio="none"><text class="A">A</text></svg>
<svg x="15.525" y="-.04" width=".95" height=".04" viewBox="0.5 -71.6 71.2 71.6" preserveAspectRatio="none"><text class="A">A</text></svg>
<svg x="15.525" y="-.30" width=".95" height=".26" viewBox="5 -72.8 66.6 74" preserveAspectRatio="none"><text class="G">G</text></svg>
<svg x="15.525" y="-.81" width=".95" height=".51" viewBox="2.4 -71.6 56.2 71.6" preserveAspectRatio="none"><text class="T">T</text></svg>
<svg x="16.525" y="-.04" width=".95" height=".04" viewBox="0.5 -71.6 71.2 71.6" preserveAspectRatio="none"><text class="A">A</text></svg>
<svg x="16.525" y="-1.84" width=".95" height="1.80" viewBox="5 -72.8 66.6 74" preserveAspectRatio="none"><text class="G">G</text></svg>
<svg x="17.525" y="-.02" width=".95" height=".02" viewBox="5 -72.8 62 74" preserveAspectRatio="none"><text class="C">C</text></svg>
<svg x="17.525" y="-1.9" width=".95" height="1.88" viewBox="2.4 -71.6 56.2 71.6" preserveAspectRatio="none"><text class="T">T</text></svg>
<svg x="18.525" y="-.17" width=".95" height=".16" viewBox="0.5 -71.6 71.2 71.6" preserveAspectRatio="none"><text class="A">A</text></svg>
<svg x="18.525" y="-1.5" width=".95" height="1.33" viewBox="5 -72.8 62 74" preserveAspectRatio="none"><text class="C">C</text></svg>
<svg x="19.525" y="-.03" width=".95" height=".03" viewBox="5 -72.8 66.6 74" preserveAspectRatio="none"><text class="G">G</text></svg>
<svg x="19.525" y="-1.88" width=".95" height="1.85" viewBox="0.5 -71.6 71.2 71.6" preserveAspectRatio="none"><text class="A">A</text></svg>
<svg x="20.525" y="-.08" width=".95" height=".08" viewBox="5 -72.8 66.6 74" preserveAspectRatio="none"><text class="G">G</text></svg>
<svg x="20.525" y="-.24" width=".95" height=".16" viewBox="5 -72.8 62 74" preserveAspectRatio="none"><text class="C">C</text></svg>
<svg x="20.525" y="-.62" width=".95" height=".38" viewBox="2.4 -71.6 56.2 71.6" preserveAspectRatio="none"><text class="T">T</text></svg>
<svg x="21.525" y="-.04" width=".95" height=".04" viewBox="5 -72.8 66.6 74" preserveAspectRatio="none"><text class="G">G</text></svg>
<svg x="21.525" y="-.10" width=".95" height=".06" viewBox="2.4 -71.6 56.2 71.6" preserveAspectRatio="none"><text class="T">T</text></svg>
<svg x="21.525" y="-.15" width=".95" height=".05" viewBox="5 -72.8 62 74" preserveAspectRatio="none"><text class="C">C</text></svg>
<svg x="23.525" y="-.02" width=".95" height=".02" viewBox="2.4 -71.6 56.2 71.6" preserveAspectRatio="none"><text class="T">T</text></svg>
<svg x="24.525" y="-.03" width=".95" height=".03" viewBox="2.4 -71.6 56.2 71.6" preserveAspectRatio="none"><text class="T">T</text></svg>
<svg x="26.525" y="-.02" width=".95" height=".02" viewBox="2.4 -71.6 56.2 71.6" preserveAspectRatio="none"><text class="T">T</text></svg>
<svg x="27.525" y="-.02" width=".95" height=".02" viewBox="5 -72.8 66.6 74" preserveAspectRatio="none"><text class="G">G</text></svg>
<svg x="28.525" y="-.03" width=".95" height=".03" viewBox="0.5 -71.6 71.2 71.6" preserveAspectRatio="none"><text class="A">A</text></svg>
<svg x="28.525" y="-.07" width=".95" height=".04" viewBox="5 -72.8 66.6 74" preserveAspectRatio="none"><text class="G">G</text></svg>
<svg x="29.525" y="-.02" width=".95" height=".02" viewBox="0.5 -71.6 71.2 71.6" preserveAspectRatio="none"><text class="A">A</text></svg>
</g>
</g>

<!-- Panel 5 -->
<g transform="translate(0,300)">
<text class="ttl" x="2" y="36.7" textLength="843" lengthAdjust="spacingAndGlyphs">pattern_1, n=1370; subpattern_4, ns=137</text>
<path class="tk" d="M120,242.8h4.5M120,191.55h4.5M120,140.3h4.5M120,89.05h4.5"/>
<text class="yl" x="114.5" y="247.5">0.0</text><text class="yl" x="114.5" y="196.25">0.5</text><text class="yl" x="114.5" y="145">1.0</text><text class="yl" x="114.5" y="93.75">1.5</text>
<path class="tk" d="M138,243v5M164,243v5M190,243v5M216,243v5M242,243v5M268,243v5M294,243v5M320,243v5M346,243v5M372,243v5M398,243v5M424,243v5M450,243v5M476,243v5M502,243v5M528,243v5M554,243v5M580,243v5M606,243v5M632,243v5M658,243v5M684,243v5M710,243v5M736,243v5M762,243v5M788,243v5M814,243v5M840,243v5M866,243v5M892,243v5"/>
<g class="xl"><text x="138" y="262.7">1</text><text x="164" y="262.7">2</text><text x="190" y="262.7">3</text><text x="216" y="262.7">4</text><text x="242" y="262.7">5</text><text x="268" y="262.7">6</text><text x="294" y="262.7">7</text><text x="320" y="262.7">8</text><text x="346" y="262.7">9</text><text x="372" y="262.7">10</text><text x="398" y="262.7">11</text><text x="424" y="262.7">12</text><text x="450" y="262.7">13</text><text x="476" y="262.7">14</text><text x="502" y="262.7">15</text><text x="528" y="262.7">16</text><text x="554" y="262.7">17</text><text x="580" y="262.7">18</text><text x="606" y="262.7">19</text><text x="632" y="262.7">20</text><text x="658" y="262.7">21</text><text x="684" y="262.7">22</text><text x="710" y="262.7">23</text><text x="736" y="262.7">24</text><text x="762" y="262.7">25</text><text x="788" y="262.7">26</text><text x="814" y="262.7">27</text><text x="840" y="262.7">28</text><text x="866" y="262.7">29</text><text x="892" y="262.7">30</text></g>
<g class="lg" transform="translate(112,242.8) scale(26,102.5)">
<svg x=".525" y="-.02" width=".95" height=".02" viewBox="0.5 -71.6 71.2 71.6" preserveAspectRatio="none"><text class="A">A</text></svg>
<svg x="1.525" y="-.03" width=".95" height=".03" viewBox="2.4 -71.6 56.2 71.6" preserveAspectRatio="none"><text class="T">T</text></svg>
<svg x="2.525" y="-.03" width=".95" height=".03" viewBox="0.5 -71.6 71.2 71.6" preserveAspectRatio="none"><text class="A">A</text></svg>
<svg x="3.525" y="-.02" width=".95" height=".02" viewBox="2.4 -71.6 56.2 71.6" preserveAspectRatio="none"><text class="T">T</text></svg>
<svg x="3.525" y="-.04" width=".95" height=".02" viewBox="5 -72.8 66.6 74" preserveAspectRatio="none"><text class="G">G</text></svg>
<svg x="3.525" y="-.06" width=".95" height=".02" viewBox="0.5 -71.6 71.2 71.6" preserveAspectRatio="none"><text class="A">A</text></svg>
<svg x="4.525" y="-.02" width=".95" height=".02" viewBox="5 -72.8 66.6 74" preserveAspectRatio="none"><text class="G">G</text></svg>
<svg x="4.525" y="-.04" width=".95" height=".02" viewBox="2.4 -71.6 56.2 71.6" preserveAspectRatio="none"><text class="T">T</text></svg>
<svg x="4.525" y="-.06" width=".95" height=".02" viewBox="0.5 -71.6 71.2 71.6" preserveAspectRatio="none"><text class="A">A</text></svg>
<svg x="6.525" y="-.03" width=".95" height=".03" viewBox="2.4 -71.6 56.2 71.6" preserveAspectRatio="none"><text class="T">T</text></svg>
<svg x="6.525" y="-.05" width=".95" height=".02" viewBox="0.5 -71.6 71.2 71.6" preserveAspectRatio="none"><text class="A">A</text></svg>
<svg x="7.525" y="-.03" width=".95" height=".03" viewBox="2.4 -71.6 56.2 71.6" preserveAspectRatio="none"><text class="T">T</text></svg>
<svg x="8.525" y="-.02" width=".95" height=".02" viewBox="0.5 -71.6 71.2 71.6" preserveAspectRatio="none"><text class="A">A</text></svg>
<svg x="9.525" y="-.03" width=".95" height=".03" viewBox="5 -72.8 62 74" preserveAspectRatio="none"><text class="C">C</text></svg>
<svg x="9.525" y="-.04" width=".95" height=".01" viewBox="0.5 -71.6 71.2 71.6" preserveAspectRatio="none"><text class="A">A</text></svg>
<svg x="10.525" y="-.03" width=".95" height=".03" viewBox="5 -72.8 62 74" preserveAspectRatio="none"><text class="C">C</text></svg>
<svg x="10.525" y="-.06" width=".95" height=".03" viewBox="2.4 -71.6 56.2 71.6" preserveAspectRatio="none"><text class="T">T</text></svg>
<svg x="10.525" y="-.10" width=".95" height=".04" viewBox="5 -72.8 66.6 74" preserveAspectRatio="none"><text class="G">G</text></svg>
<svg x="10.525" y="-.15" width=".95" height=".05" viewBox="0.5 -71.6 71.2 71.6" preserveAspectRatio="none"><text class="A">A</text></svg>
<svg x="11.525" y="-.02" width=".95" height=".02" viewBox="2.4 -71.6 56.2 71.6" preserveAspectRatio="none"><text class="T">T</text></svg>
<svg x="11.525" y="-.06" width=".95" height=".04" viewBox="5 -72.8 62 74" preserveAspectRatio="none"><text class="C">C</text></svg>
<svg x="11.525" y="-.15" width=".95" height=".09" viewBox="5 -72.8 66.6 74" preserveAspectRatio="none"><text class="G">G</text></svg>
<svg x="11.525" y="-.25" width=".95" height=".10" viewBox="0.5 -71.6 71.2 71.6" preserveAspectRatio="none"><text class="A">A</text></svg>
<svg x="12.525" y="-.03" width=".95" height=".03" viewBox="5 -72.8 66.6 74" preserveAspectRatio="none"><text class="G">G</text></svg>
<svg x="12.525" y="-.09" width=".95" height=".06" viewBox="5 -72.8 62 74" preserveAspectRatio="none"><text class="C">C</text></svg>
<svg x="12.525" y="-.16" width=".95" height=".07" viewBox="0.5 -71.6 71.2 71.6" preserveAspectRatio="none"><text class="A">A</text></svg>
<svg x="12.525" y="-1.246" width=".95" height="1.086" viewBox="2.4 -71.6 56.2 71.6" preserveAspectRatio="none"><text class="T">T</text></svg>
<svg x="13.525" y="-.04" width=".95" height=".04" viewBox="5 -72.8 62 74" preserveAspectRatio="none"><text class="C">C</text></svg>
<svg x="13.525" y="-.09" width=".95" height=".05" viewBox="0.5 -71.6 71.2 71.6" preserveAspectRatio="none"><text class="A">A</text></svg>
<svg x="13.525" y="-.21" width=".95" height=".12" viewBox="2.4 -71.6 56.2 71.6" preserveAspectRatio="none"><text class="T">T</text></svg>
<svg x="13.525" y="-.78" width=".95" height=".57" viewBox="5 -72.8 66.6 74" preserveAspectRatio="none"><text class="G">G</text></svg>
<svg x="14.525" y="-.03" width=".95" height=".03" viewBox="2.4 -71.6 56.2 71.6" preserveAspectRatio="none"><text class="T">T</text></svg>
<svg x="14.525" y="-.06" width=".95" height=".03" viewBox="5 -72.8 62 74" preserveAspectRatio="none"><text class="C">C</text></svg>
<svg x="14.525" y="-.23" width=".95" height=".17" viewBox="5 -72.8 66.6 74" preserveAspectRatio="none"><text class="G">G</text></svg>
<svg x="14.525" y="-.96" width=".95" height=".73" viewBox="0.5 -71.6 71.2 71.6" preserveAspectRatio="none"><text class="A">A</text></svg>
<svg x="15.525" y="-.09" width=".95" height=".09" viewBox="5 -72.8 66.6 74" preserveAspectRatio="none"><text class="G">G</text></svg>
<svg x="15.525" y="-.26" width=".95" height=".17" viewBox="2.4 -71.6 56.2 71.6" preserveAspectRatio="none"><text class="T">T</text></svg>
<svg x="15.525" y="-.74" width=".95" height=".48" viewBox="5 -72.8 62 74" preserveAspectRatio="none"><text class="C">C</text></svg>
<svg x="16.525" y="-.01" width=".95" height=".01" viewBox="0.5 -71.6 71.2 71.6" preserveAspectRatio="none"><text class="A">A</text></svg>
<svg x="16.525" y="-1.878" width=".95" height="1.868" viewBox="5 -72.8 66.6 74" preserveAspectRatio="none"><text class="G">G</text></svg>
<svg x="17.525" y="-.02" width=".95" height=".02" viewBox="5 -72.8 66.6 74" preserveAspectRatio="none"><text class="G">G</text></svg>
<svg x="17.525" y="-.06" width=".95" height=".04" viewBox="0.5 -71.6 71.2 71.6" preserveAspectRatio="none"><text class="A">A</text></svg>
<svg x="17.525" y="-.24" width=".95" height=".18" viewBox="5 -72.8 62 74" preserveAspectRatio="none"><text class="C">C</text></svg>
<svg x="17.525" y="-.81" width=".95" height=".57" viewBox="2.4 -71.6 56.2 71.6" preserveAspectRatio="none"><text class="T">T</text></svg>
<svg x="18.525" y="-.02" width=".95" height=".02" viewBox="2.4 -71.6 56.2 71.6" preserveAspectRatio="none"><text class="T">T</text></svg>
<svg x="18.525" y="-.05" width=".95" height=".03" viewBox="5 -72.8 66.6 74" preserveAspectRatio="none"><text class="G">G</text></svg>
<svg x="18.525" y="-.22" width=".95" height=".17" viewBox="5 -72.8 62 74" preserveAspectRatio="none"><text class="C">C</text></svg>
<svg x="18.525" y="-.46" width=".95" height=".24" viewBox="0.5 -71.6 71.2 71.6" preserveAspectRatio="none"><text class="A">A</text></svg>
<svg x="19.525" y="-.02" width=".95" height=".02" viewBox="5 -72.8 66.6 74" preserveAspectRatio="none"><text class="G">G</text></svg>
<svg x="19.525" y="-.06" width=".95" height=".04" viewBox="2.4 -71.6 56.2 71.6" preserveAspectRatio="none"><text class="T">T</text></svg>
<svg x="19.525" y="-.10" width=".95" height=".04" viewBox="5 -72.8 62 74" preserveAspectRatio="none"><text class="C">C</text></svg>
<svg x="19.525" y="-1.59" width=".95" height="1.49" viewBox="0.5 -71.6 71.2 71.6" preserveAspectRatio="none"><text class="A">A</text></svg>
<svg x="20.525" y="-.03" width=".95" height=".03" viewBox="5 -72.8 66.6 74" preserveAspectRatio="none"><text class="G">G</text></svg>
<svg x="20.525" y="-.09" width=".95" height=".06" viewBox="0.5 -71.6 71.2 71.6" preserveAspectRatio="none"><text class="A">A</text></svg>
<svg x="20.525" y="-.17" width=".95" height=".08" viewBox="5 -72.8 62 74" preserveAspectRatio="none"><text class="C">C</text></svg>
<svg x="20.525" y="-.41" width=".95" height=".24" viewBox="2.4 -71.6 56.2 71.6" preserveAspectRatio="none"><text class="T">T</text></svg>
<svg x="21.525" y="-.03" width=".95" height=".03" viewBox="5 -72.8 62 74" preserveAspectRatio="none"><text class="C">C</text></svg>
<svg x="21.525" y="-.05" width=".95" height=".02" viewBox="2.4 -71.6 56.2 71.6" preserveAspectRatio="none"><text class="T">T</text></svg>
<svg x="22.525" y="-.03" width=".95" height=".03" viewBox="0.5 -71.6 71.2 71.6" preserveAspectRatio="none"><text class="A">A</text></svg>
<svg x="22.525" y="-.06" width=".95" height=".03" viewBox="2.4 -71.6 56.2 71.6" preserveAspectRatio="none"><text class="T">T</text></svg>
<svg x="24.525" y="-.02" width=".95" height=".02" viewBox="5 -72.8 66.6 74" preserveAspectRatio="none"><text class="G">G</text></svg>
<svg x="24.525" y="-.04" width=".95" height=".02" viewBox="2.4 -71.6 56.2 71.6" preserveAspectRatio="none"><text class="T">T</text></svg>
<svg x="24.525" y="-.07" width=".95" height=".03" viewBox="0.5 -71.6 71.2 71.6" preserveAspectRatio="none"><text class="A">A</text></svg>
<svg x="25.525" y="-.03" width=".95" height=".03" viewBox="2.4 -71.6 56.2 71.6" preserveAspectRatio="none"><text class="T">T</text></svg>
<svg x="26.525" y="-.03" width=".95" height=".03" viewBox="0.5 -71.6 71.2 71.6" preserveAspectRatio="none"><text class="A">A</text></svg>
<svg x="27.525" y="-.03" width=".95" height=".03" viewBox="0.5 -71.6 71.2 71.6" preserveAspectRatio="none"><text class="A">A</text></svg>
<svg x="28.525" y="-.03" width=".95" height=".03" viewBox="5 -72.8 62 74" preserveAspectRatio="none"><text class="C">C</text></svg>
<svg x="29.525" y="-.02" width=".95" height=".02" viewBox="2.4 -71.6 56.2 71.6" preserveAspectRatio="none"><text class="T">T</text></svg>
</g>
</g>

<!-- Panel 6 -->
<g transform="translate(1050,300)">
<text class="ttl" x="2" y="36.7" textLength="818" lengthAdjust="spacingAndGlyphs">pattern_1, n=1370; subpattern_5, ns=18</text>
<path class="tk" d="M120,242.8h4.5M120,194.68h4.5M120,146.55h4.5M120,98.43h4.5M120,50.3h4.5"/>
<text class="yl" x="114.5" y="247.5">0.0</text><text class="yl" x="114.5" y="199.38">0.5</text><text class="yl" x="114.5" y="151.25">1.0</text><text class="yl" x="114.5" y="103.13">1.5</text><text class="yl" x="114.5" y="55">2.0</text>
<path class="tk" d="M138,243v5M164,243v5M190,243v5M216,243v5M242,243v5M268,243v5M294,243v5M320,243v5M346,243v5M372,243v5M398,243v5M424,243v5M450,243v5M476,243v5M502,243v5M528,243v5M554,243v5M580,243v5M606,243v5M632,243v5M658,243v5M684,243v5M710,243v5M736,243v5M762,243v5M788,243v5M814,243v5M840,243v5M866,243v5M892,243v5"/>
<g class="xl"><text x="138" y="262.7">1</text><text x="164" y="262.7">2</text><text x="190" y="262.7">3</text><text x="216" y="262.7">4</text><text x="242" y="262.7">5</text><text x="268" y="262.7">6</text><text x="294" y="262.7">7</text><text x="320" y="262.7">8</text><text x="346" y="262.7">9</text><text x="372" y="262.7">10</text><text x="398" y="262.7">11</text><text x="424" y="262.7">12</text><text x="450" y="262.7">13</text><text x="476" y="262.7">14</text><text x="502" y="262.7">15</text><text x="528" y="262.7">16</text><text x="554" y="262.7">17</text><text x="580" y="262.7">18</text><text x="606" y="262.7">19</text><text x="632" y="262.7">20</text><text x="658" y="262.7">21</text><text x="684" y="262.7">22</text><text x="710" y="262.7">23</text><text x="736" y="262.7">24</text><text x="762" y="262.7">25</text><text x="788" y="262.7">26</text><text x="814" y="262.7">27</text><text x="840" y="262.7">28</text><text x="866" y="262.7">29</text><text x="892" y="262.7">30</text></g>
<g class="lg" transform="translate(112,242.8) scale(26,96.25)">
<svg x=".525" y="-.10" width=".95" height=".10" viewBox="5 -72.8 66.6 74" preserveAspectRatio="none"><text class="G">G</text></svg>
<svg x=".525" y="-.24" width=".95" height=".14" viewBox="2.4 -71.6 56.2 71.6" preserveAspectRatio="none"><text class="T">T</text></svg>
<svg x=".525" y="-.88" width=".95" height=".64" viewBox="5 -72.8 62 74" preserveAspectRatio="none"><text class="C">C</text></svg>
<svg x="1.525" y="-.10" width=".95" height=".10" viewBox="5 -72.8 62 74" preserveAspectRatio="none"><text class="C">C</text></svg>
<svg x="1.525" y="-.24" width=".95" height=".14" viewBox="5 -72.8 66.6 74" preserveAspectRatio="none"><text class="G">G</text></svg>
<svg x="1.525" y="-.88" width=".95" height=".64" viewBox="0.5 -71.6 71.2 71.6" preserveAspectRatio="none"><text class="A">A</text></svg>
<svg x="2.525" y="-.08" width=".95" height=".08" viewBox="5 -72.8 62 74" preserveAspectRatio="none"><text class="C">C</text></svg>
<svg x="2.525" y="-.28" width=".95" height=".20" viewBox="0.5 -71.6 71.2 71.6" preserveAspectRatio="none"><text class="A">A</text></svg>
<svg x="2.525" y="-.71" width=".95" height=".43" viewBox="2.4 -71.6 56.2 71.6" preserveAspectRatio="none"><text class="T">T</text></svg>
<svg x="3.525" y="-.05" width=".95" height=".05" viewBox="5 -72.8 62 74" preserveAspectRatio="none"><text class="C">C</text></svg>
<svg x="3.525" y="-.12" width=".95" height=".07" viewBox="5 -72.8 66.6 74" preserveAspectRatio="none"><text class="G">G</text></svg>
<svg x="3.525" y="-.18" width=".95" height=".06" viewBox="2.4 -71.6 56.2 71.6" preserveAspectRatio="none"><text class="T">T</text></svg>
<svg x="3.525" y="-.56" width=".95" height=".38" viewBox="0.5 -71.6 71.2 71.6" preserveAspectRatio="none"><text class="A">A</text></svg>
<svg x="4.525" y="-.07" width=".95" height=".07" viewBox="0.5 -71.6 71.2 71.6" preserveAspectRatio="none"><text class="A">A</text></svg>
<svg x="4.525" y="-.28" width=".95" height=".21" viewBox="2.4 -71.6 56.2 71.6" preserveAspectRatio="none"><text class="T">T</text></svg>
<svg x="4.525" y="-.66" width=".95" height=".38" viewBox="5 -72.8 66.6 74" preserveAspectRatio="none"><text class="G">G</text></svg>
<svg x="5.525" y="-.03" width=".95" height=".03" viewBox="5 -72.8 62 74" preserveAspectRatio="none"><text class="C">C</text></svg>
<svg x="5.525" y="-.07" width=".95" height=".04" viewBox="2.4 -71.6 56.2 71.6" preserveAspectRatio="none"><text class="T">T</text></svg>
<svg x="5.525" y="-.22" width=".95" height=".15" viewBox="0.5 -71.6 71.2 71.6" preserveAspectRatio="none"><text class="A">A</text></svg>
<svg x="5.525" y="-.40" width=".95" height=".18" viewBox="5 -72.8 66.6 74" preserveAspectRatio="none"><text class="G">G</text></svg>
<svg x="6.525" y="-.02" width=".95" height=".02" viewBox="0.5 -71.6 71.2 71.6" preserveAspectRatio="none"><text class="A">A</text></svg>
<svg x="6.525" y="-.05" width=".95" height=".03" viewBox="5 -72.8 66.6 74" preserveAspectRatio="none"><text class="G">G</text></svg>
<svg x="6.525" y="-.16" width=".95" height=".11" viewBox="5 -72.8 62 74" preserveAspectRatio="none"><text class="C">C</text></svg>
<svg x="6.525" y="-.24" width=".95" height=".08" viewBox="2.4 -71.6 56.2 71.6" preserveAspectRatio="none"><text class="T">T</text></svg>
<svg x="7.525" y="-.08" width=".95" height=".08" viewBox="5 -72.8 66.6 74" preserveAspectRatio="none"><text class="G">G</text></svg>
<svg x="7.525" y="-.27" width=".95" height=".19" viewBox="5 -72.8 62 74" preserveAspectRatio="none"><text class="C">C</text></svg>
<svg x="7.525" y="-.71" width=".95" height=".44" viewBox="0.5 -71.6 71.2 71.6" preserveAspectRatio="none"><text class="A">A</text></svg>
<svg x="8.525" y="-.33" width=".95" height=".33" viewBox="5 -72.8 66.6 74" preserveAspectRatio="none"><text class="G">G</text></svg>
<svg x="8.525" y="-1.15" width=".95" height=".82" viewBox="2.4 -71.6 56.2 71.6" preserveAspectRatio="none"><text class="T">T</text></svg>
<svg x="9.525" y="-.10" width=".95" height=".10" viewBox="2.4 -71.6 56.2 71.6" preserveAspectRatio="none"><text class="T">T</text></svg>
<svg x="9.525" y="-.25" width=".95" height=".15" viewBox="0.5 -71.6 71.2 71.6" preserveAspectRatio="none"><text class="A">A</text></svg>
<svg x="9.525" y="-.88" width=".95" height=".63" viewBox="5 -72.8 66.6 74" preserveAspectRatio="none"><text class="G">G</text></svg>
<svg x="10.525" y="-.12" width=".95" height=".12" viewBox="0.5 -71.6 71.2 71.6" preserveAspectRatio="none"><text class="A">A</text></svg>
<svg x="10.525" y="-.25" width=".95" height=".13" viewBox="2.4 -71.6 56.2 71.6" preserveAspectRatio="none"><text class="T">T</text></svg>
<svg x="10.525" y="-.48" width=".95" height=".23" viewBox="5 -72.8 66.6 74" preserveAspectRatio="none"><text class="G">G</text></svg>
<svg x="11.525" y="-.10" width=".95" height=".10" viewBox="5 -72.8 66.6 74" preserveAspectRatio="none"><text class="G">G</text></svg>
<svg x="11.525" y="-.25" width=".95" height=".15" viewBox="2.4 -71.6 56.2 71.6" preserveAspectRatio="none"><text class="T">T</text></svg>
<svg x="11.525" y="-.88" width=".95" height=".63" viewBox="0.5 -71.6 71.2 71.6" preserveAspectRatio="none"><text class="A">A</text></svg>
<svg x="12.525" y="-2" width=".95" height="2" viewBox="2.4 -71.6 56.2 71.6" preserveAspectRatio="none"><text class="T">T</text></svg>
<svg x="13.525" y="-2" width=".95" height="2" viewBox="5 -72.8 66.6 74" preserveAspectRatio="none"><text class="G">G</text></svg>
<svg x="14.525" y="-2" width=".95" height="2" viewBox="0.5 -71.6 71.2 71.6" preserveAspectRatio="none"><text class="A">A</text></svg>
<svg x="15.525" y="-.10" width=".95" height=".10" viewBox="0.5 -71.6 71.2 71.6" preserveAspectRatio="none"><text class="A">A</text></svg>
<svg x="15.525" y="-.20" width=".95" height=".10" viewBox="2.4 -71.6 56.2 71.6" preserveAspectRatio="none"><text class="T">T</text></svg>
<svg x="15.525" y="-1.21" width=".95" height="1.01" viewBox="5 -72.8 66.6 74" preserveAspectRatio="none"><text class="G">G</text></svg>
<svg x="16.525" y="-.16" width=".95" height=".16" viewBox="5 -72.8 62 74" preserveAspectRatio="none"><text class="C">C</text></svg>
<svg x="16.525" y="-1.5" width=".95" height="1.34" viewBox="5 -72.8 66.6 74" preserveAspectRatio="none"><text class="G">G</text></svg>
<svg x="17.525" y="-2" width=".95" height="2" viewBox="2.4 -71.6 56.2 71.6" preserveAspectRatio="none"><text class="T">T</text></svg>
<svg x="18.525" y="-2" width=".95" height="2" viewBox="5 -72.8 62 74" preserveAspectRatio="none"><text class="C">C</text></svg>
<svg x="19.525" y="-2" width=".95" height="2" viewBox="0.5 -71.6 71.2 71.6" preserveAspectRatio="none"><text class="A">A</text></svg>
<svg x="20.525" y="-.05" width=".95" height=".05" viewBox="5 -72.8 62 74" preserveAspectRatio="none"><text class="C">C</text></svg>
<svg x="20.525" y="-.31" width=".95" height=".26" viewBox="2.4 -71.6 56.2 71.6" preserveAspectRatio="none"><text class="T">T</text></svg>
<svg x="20.525" y="-.81" width=".95" height=".50" viewBox="5 -72.8 66.6 74" preserveAspectRatio="none"><text class="G">G</text></svg>
<svg x="21.525" y="-.03" width=".95" height=".03" viewBox="0.5 -71.6 71.2 71.6" preserveAspectRatio="none"><text class="A">A</text></svg>
<svg x="21.525" y="-.08" width=".95" height=".05" viewBox="2.4 -71.6 56.2 71.6" preserveAspectRatio="none"><text class="T">T</text></svg>
<svg x="21.525" y="-.23" width=".95" height=".15" viewBox="5 -72.8 66.6 74" preserveAspectRatio="none"><text class="G">G</text></svg>
<svg x="21.525" y="-.77" width=".95" height=".54" viewBox="5 -72.8 62 74" preserveAspectRatio="none"><text class="C">C</text></svg>
<svg x="22.525" y="-.02" width=".95" height=".02" viewBox="2.4 -71.6 56.2 71.6" preserveAspectRatio="none"><text class="T">T</text></svg>
<svg x="22.525" y="-.07" width=".95" height=".05" viewBox="0.5 -71.6 71.2 71.6" preserveAspectRatio="none"><text class="A">A</text></svg>
<svg x="22.525" y="-.14" width=".95" height=".07" viewBox="5 -72.8 66.6 74" preserveAspectRatio="none"><text class="G">G</text></svg>
<svg x="22.525" y="-.22" width=".95" height=".08" viewBox="5 -72.8 62 74" preserveAspectRatio="none"><text class="C">C</text></svg>
<svg x="23.525" y="-.13" width=".95" height=".13" viewBox="0.5 -71.6 71.2 71.6" preserveAspectRatio="none"><text class="A">A</text></svg>
<svg x="23.525" y="-.26" width=".95" height=".13" viewBox="2.4 -71.6 56.2 71.6" preserveAspectRatio="none"><text class="T">T</text></svg>
<svg x="23.525" y="-.57" width=".95" height=".31" viewBox="5 -72.8 66.6 74" preserveAspectRatio="none"><text class="G">G</text></svg>
<svg x="24.525" y="-.03" width=".95" height=".03" viewBox="2.4 -71.6 56.2 71.6" preserveAspectRatio="none"><text class="T">T</text></svg>
<svg x="24.525" y="-.09" width=".95" height=".06" viewBox="5 -72.8 62 74" preserveAspectRatio="none"><text class="C">C</text></svg>
<svg x="24.525" y="-.22" width=".95" height=".13" viewBox="0.5 -71.6 71.2 71.6" preserveAspectRatio="none"><text class="A">A</text></svg>
<svg x="24.525" y="-.51" width=".95" height=".29" viewBox="5 -72.8 66.6 74" preserveAspectRatio="none"><text class="G">G</text></svg>
<svg x="25.525" y="-.03" width=".95" height=".03" viewBox="5 -72.8 66.6 74" preserveAspectRatio="none"><text class="G">G</text></svg>
<svg x="25.525" y="-.38" width=".95" height=".35" viewBox="2.4 -71.6 56.2 71.6" preserveAspectRatio="none"><text class="T">T</text></svg>
<svg x="25.525" y="-.76" width=".95" height=".38" viewBox="0.5 -71.6 71.2 71.6" preserveAspectRatio="none"><text class="A">A</text></svg>
<svg x="26.525" y="-.03" width=".95" height=".03" viewBox="5 -72.8 66.6 74" preserveAspectRatio="none"><text class="G">G</text></svg>
<svg x="26.525" y="-.10" width=".95" height=".07" viewBox="0.5 -71.6 71.2 71.6" preserveAspectRatio="none"><text class="A">A</text></svg>
<svg x="26.525" y="-.20" width=".95" height=".10" viewBox="5 -72.8 62 74" preserveAspectRatio="none"><text class="C">C</text></svg>
<svg x="26.525" y="-.60" width=".95" height=".40" viewBox="2.4 -71.6 56.2 71.6" preserveAspectRatio="none"><text class="T">T</text></svg>
<svg x="27.525" y="-.45" width=".95" height=".45" viewBox="2.4 -71.6 56.2 71.6" preserveAspectRatio="none"><text class="T">T</text></svg>
<svg x="27.525" y="-1.01" width=".95" height=".56" viewBox="5 -72.8 66.6 74" preserveAspectRatio="none"><text class="G">G</text></svg>
<svg x="28.525" y="-.03" width=".95" height=".03" viewBox="0.5 -71.6 71.2 71.6" preserveAspectRatio="none"><text class="A">A</text></svg>
<svg x="28.525" y="-.06" width=".95" height=".03" viewBox="2.4 -71.6 56.2 71.6" preserveAspectRatio="none"><text class="T">T</text></svg>
<svg x="28.525" y="-.16" width=".95" height=".10" viewBox="5 -72.8 66.6 74" preserveAspectRatio="none"><text class="G">G</text></svg>
<svg x="28.525" y="-.26" width=".95" height=".10" viewBox="5 -72.8 62 74" preserveAspectRatio="none"><text class="C">C</text></svg>
<svg x="29.525" y="-.03" width=".95" height=".03" viewBox="0.5 -71.6 71.2 71.6" preserveAspectRatio="none"><text class="A">A</text></svg>
<svg x="29.525" y="-.06" width=".95" height=".03" viewBox="5 -72.8 66.6 74" preserveAspectRatio="none"><text class="G">G</text></svg>
<svg x="29.525" y="-.15" width=".95" height=".09" viewBox="2.4 -71.6 56.2 71.6" preserveAspectRatio="none"><text class="T">T</text></svg>
<svg x="29.525" y="-.29" width=".95" height=".14" viewBox="5 -72.8 62 74" preserveAspectRatio="none"><text class="C">C</text></svg>
</g>
</g>

<!-- Panel 7 -->
<g transform="translate(2100,300)">
<text class="ttl" x="2" y="36.7" textLength="819" lengthAdjust="spacingAndGlyphs">pattern_1, n=1370; subpattern_6, ns=16</text>
<path class="tk" d="M120,242.8h4.5M120,194.68h4.5M120,146.55h4.5M120,98.43h4.5M120,50.3h4.5"/>
<text class="yl" x="114.5" y="247.5">0.0</text><text class="yl" x="114.5" y="199.38">0.5</text><text class="yl" x="114.5" y="151.25">1.0</text><text class="yl" x="114.5" y="103.13">1.5</text><text class="yl" x="114.5" y="55">2.0</text>
<path class="tk" d="M138,243v5M164,243v5M190,243v5M216,243v5M242,243v5M268,243v5M294,243v5M320,243v5M346,243v5M372,243v5M398,243v5M424,243v5M450,243v5M476,243v5M502,243v5M528,243v5M554,243v5M580,243v5M606,243v5M632,243v5M658,243v5M684,243v5M710,243v5M736,243v5M762,243v5M788,243v5M814,243v5M840,243v5M866,243v5M892,243v5"/>
<g class="xl"><text x="138" y="262.7">1</text><text x="164" y="262.7">2</text><text x="190" y="262.7">3</text><text x="216" y="262.7">4</text><text x="242" y="262.7">5</text><text x="268" y="262.7">6</text><text x="294" y="262.7">7</text><text x="320" y="262.7">8</text><text x="346" y="262.7">9</text><text x="372" y="262.7">10</text><text x="398" y="262.7">11</text><text x="424" y="262.7">12</text><text x="450" y="262.7">13</text><text x="476" y="262.7">14</text><text x="502" y="262.7">15</text><text x="528" y="262.7">16</text><text x="554" y="262.7">17</text><text x="580" y="262.7">18</text><text x="606" y="262.7">19</text><text x="632" y="262.7">20</text><text x="658" y="262.7">21</text><text x="684" y="262.7">22</text><text x="710" y="262.7">23</text><text x="736" y="262.7">24</text><text x="762" y="262.7">25</text><text x="788" y="262.7">26</text><text x="814" y="262.7">27</text><text x="840" y="262.7">28</text><text x="866" y="262.7">29</text><text x="892" y="262.7">30</text></g>
<g class="lg" transform="translate(112,242.8) scale(26,96.25)">
<svg x=".525" y="-.03" width=".95" height=".03" viewBox="0.5 -71.6 71.2 71.6" preserveAspectRatio="none"><text class="A">A</text></svg>
<svg x=".525" y="-.07" width=".95" height=".04" viewBox="5 -72.8 66.6 74" preserveAspectRatio="none"><text class="G">G</text></svg>
<svg x=".525" y="-.17" width=".95" height=".10" viewBox="5 -72.8 62 74" preserveAspectRatio="none"><text class="C">C</text></svg>
<svg x=".525" y="-.41" width=".95" height=".24" viewBox="2.4 -71.6 56.2 71.6" preserveAspectRatio="none"><text class="T">T</text></svg>
<svg x="1.525" y="-.02" width=".95" height=".02" viewBox="0.5 -71.6 71.2 71.6" preserveAspectRatio="none"><text class="A">A</text></svg>
<svg x="1.525" y="-.07" width=".95" height=".05" viewBox="5 -72.8 62 74" preserveAspectRatio="none"><text class="C">C</text></svg>
<svg x="1.525" y="-.13" width=".95" height=".06" viewBox="2.4 -71.6 56.2 71.6" preserveAspectRatio="none"><text class="T">T</text></svg>
<svg x="1.525" y="-.26" width=".95" height=".13" viewBox="5 -72.8 66.6 74" preserveAspectRatio="none"><text class="G">G</text></svg>
<svg x="2.525" y="-.02" width=".95" height=".02" viewBox="5 -72.8 62 74" preserveAspectRatio="none"><text class="C">C</text></svg>
<svg x="2.525" y="-.04" width=".95" height=".02" viewBox="5 -72.8 66.6 74" preserveAspectRatio="none"><text class="G">G</text></svg>
<svg x="2.525" y="-.07" width=".95" height=".03" viewBox="2.4 -71.6 56.2 71.6" preserveAspectRatio="none"><text class="T">T</text></svg>
<svg x="2.525" y="-.13" width=".95" height=".06" viewBox="0.5 -71.6 71.2 71.6" preserveAspectRatio="none"><text class="A">A</text></svg>
<svg x="3.525" y="-.03" width=".95" height=".03" viewBox="0.5 -71.6 71.2 71.6" preserveAspectRatio="none"><text class="A">A</text></svg>
<svg x="3.525" y="-.06" width=".95" height=".03" viewBox="5 -72.8 66.6 74" preserveAspectRatio="none"><text class="G">G</text></svg>
<svg x="3.525" y="-.20" width=".95" height=".14" viewBox="5 -72.8 62 74" preserveAspectRatio="none"><text class="C">C</text></svg>
<svg x="3.525" y="-.58" width=".95" height=".38" viewBox="2.4 -71.6 56.2 71.6" preserveAspectRatio="none"><text class="T">T</text></svg>
<svg x="4.525" y="-.03" width=".95" height=".03" viewBox="0.5 -71.6 71.2 71.6" preserveAspectRatio="none"><text class="A">A</text></svg>
<svg x="4.525" y="-.10" width=".95" height=".07" viewBox="5 -72.8 62 74" preserveAspectRatio="none"><text class="C">C</text></svg>
<svg x="4.525" y="-.19" width=".95" height=".09" viewBox="2.4 -71.6 56.2 71.6" preserveAspectRatio="none"><text class="T">T</text></svg>
<svg x="4.525" y="-.51" width=".95" height=".32" viewBox="5 -72.8 66.6 74" preserveAspectRatio="none"><text class="G">G</text></svg>
<svg x="5.525" y="-.39" width=".95" height=".39" viewBox="5 -72.8 66.6 74" preserveAspectRatio="none"><text class="G">G</text></svg>
<svg x="5.525" y="-1.05" width=".95" height=".66" viewBox="0.5 -71.6 71.2 71.6" preserveAspectRatio="none"><text class="A">A</text></svg>
<svg x="6.525" y="-.03" width=".95" height=".03" viewBox="0.5 -71.6 71.2 71.6" preserveAspectRatio="none"><text class="A">A</text></svg>
<svg x="6.525" y="-.10" width=".95" height=".07" viewBox="5 -72.8 62 74" preserveAspectRatio="none"><text class="C">C</text></svg>
<svg x="6.525" y="-.21" width=".95" height=".11" viewBox="5 -72.8 66.6 74" preserveAspectRatio="none"><text class="G">G</text></svg>
<svg x="6.525" y="-.41" width=".95" height=".20" viewBox="2.4 -71.6 56.2 71.6" preserveAspectRatio="none"><text class="T">T</text></svg>
<svg x="7.525" y="-.12" width=".95" height=".12" viewBox="0.5 -71.6 71.2 71.6" preserveAspectRatio="none"><text class="A">A</text></svg>
<svg x="7.525" y="-.26" width=".95" height=".14" viewBox="5 -72.8 62 74" preserveAspectRatio="none"><text class="C">C</text></svg>
<svg x="7.525" y="-.95" width=".95" height=".69" viewBox="5 -72.8 66.6 74" preserveAspectRatio="none"><text class="G">G</text></svg>
<svg x="8.525" y="-.05" width=".95" height=".05" viewBox="5 -72.8 66.6 74" preserveAspectRatio="none"><text class="G">G</text></svg>
<svg x="8.525" y="-.31" width=".95" height=".26" viewBox="2.4 -71.6 56.2 71.6" preserveAspectRatio="none"><text class="T">T</text></svg>
<svg x="8.525" y="-.81" width=".95" height=".50" viewBox="0.5 -71.6 71.2 71.6" preserveAspectRatio="none"><text class="A">A</text></svg>
<svg x="9.525" y="-.41" width=".95" height=".41" viewBox="5 -72.8 66.6 74" preserveAspectRatio="none"><text class="G">G</text></svg>
<svg x="9.525" y="-1.04" width=".95" height=".63" viewBox="2.4 -71.6 56.2 71.6" preserveAspectRatio="none"><text class="T">T</text></svg>
<svg x="10.525" y="-.31" width=".95" height=".31" viewBox="0.5 -71.6 71.2 71.6" preserveAspectRatio="none"><text class="A">A</text></svg>
<svg x="10.525" y="-1.2" width=".95" height=".89" viewBox="5 -72.8 66.6 74" preserveAspectRatio="none"><text class="G">G</text></svg>
<svg x="11.525" y="-.35" width=".95" height=".35" viewBox="5 -72.8 66.6 74" preserveAspectRatio="none"><text class="G">G</text></svg>
<svg x="11.525" y="-1.11" width=".95" height=".76" viewBox="0.5 -71.6 71.2 71.6" preserveAspectRatio="none"><text class="A">A</text></svg>
<svg x="12.525" y="-2" width=".95" height="2" viewBox="2.4 -71.6 56.2 71.6" preserveAspectRatio="none"><text class="T">T</text></svg>
<svg x="13.525" y="-2" width=".95" height="2" viewBox="5 -72.8 66.6 74" preserveAspectRatio="none"><text class="G">G</text></svg>
<svg x="14.525" y="-2" width=".95" height="2" viewBox="0.5 -71.6 71.2 71.6" preserveAspectRatio="none"><text class="A">A</text></svg>
<svg x="15.525" y="-.06" width=".95" height=".06" viewBox="0.5 -71.6 71.2 71.6" preserveAspectRatio="none"><text class="A">A</text></svg>
<svg x="15.525" y="-.24" width=".95" height=".18" viewBox="5 -72.8 66.6 74" preserveAspectRatio="none"><text class="G">G</text></svg>
<svg x="15.525" y="-.98" width=".95" height=".74" viewBox="2.4 -71.6 56.2 71.6" preserveAspectRatio="none"><text class="T">T</text></svg>
<svg x="16.525" y="-.26" width=".95" height=".26" viewBox="0.5 -71.6 71.2 71.6" preserveAspectRatio="none"><text class="A">A</text></svg>
<svg x="16.525" y="-1.31" width=".95" height="1.05" viewBox="5 -72.8 66.6 74" preserveAspectRatio="none"><text class="G">G</text></svg>
<svg x="17.525" y="-.05" width=".95" height=".05" viewBox="5 -72.8 62 74" preserveAspectRatio="none"><text class="C">C</text></svg>
<svg x="17.525" y="-.37" width=".95" height=".32" viewBox="2.4 -71.6 56.2 71.6" preserveAspectRatio="none"><text class="T">T</text></svg>
<svg x="17.525" y="-.74" width=".95" height=".37" viewBox="0.5 -71.6 71.2 71.6" preserveAspectRatio="none"><text class="A">A</text></svg>
<svg x="18.525" y="-.11" width=".95" height=".11" viewBox="2.4 -71.6 56.2 71.6" preserveAspectRatio="none"><text class="T">T</text></svg>
<svg x="18.525" y="-1.67" width=".95" height="1.56" viewBox="5 -72.8 62 74" preserveAspectRatio="none"><text class="C">C</text></svg>
<svg x="19.525" y="-.11" width=".95" height=".11" viewBox="5 -72.8 66.6 74" preserveAspectRatio="none"><text class="G">G</text></svg>
<svg x="19.525" y="-1.67" width=".95" height="1.56" viewBox="0.5 -71.6 71.2 71.6" preserveAspectRatio="none"><text class="A">A</text></svg>
<svg x="20.525" y="-.07" width=".95" height=".07" viewBox="0.5 -71.6 71.2 71.6" preserveAspectRatio="none"><text class="A">A</text></svg>
<svg x="20.525" y="-.28" width=".95" height=".21" viewBox="2.4 -71.6 56.2 71.6" preserveAspectRatio="none"><text class="T">T</text></svg>
<svg x="20.525" y="-.64" width=".95" height=".36" viewBox="5 -72.8 66.6 74" preserveAspectRatio="none"><text class="G">G</text></svg>
<svg x="21.525" y="-.10" width=".95" height=".10" viewBox="5 -72.8 66.6 74" preserveAspectRatio="none"><text class="G">G</text></svg>
<svg x="21.525" y="-.28" width=".95" height=".18" viewBox="5 -72.8 62 74" preserveAspectRatio="none"><text class="C">C</text></svg>
<svg x="21.525" y="-.50" width=".95" height=".22" viewBox="2.4 -71.6 56.2 71.6" preserveAspectRatio="none"><text class="T">T</text></svg>
<svg x="22.525" y="-.13" width=".95" height=".13" viewBox="0.5 -71.6 71.2 71.6" preserveAspectRatio="none"><text class="A">A</text></svg>
<svg x="22.525" y="-.26" width=".95" height=".13" viewBox="5 -72.8 62 74" preserveAspectRatio="none"><text class="C">C</text></svg>
<svg x="22.525" y="-.68" width=".95" height=".42" viewBox="5 -72.8 66.6 74" preserveAspectRatio="none"><text class="G">G</text></svg>
<svg x="23.525" y="-.05" width=".95" height=".05" viewBox="5 -72.8 62 74" preserveAspectRatio="none"><text class="C">C</text></svg>
<svg x="23.525" y="-.30" width=".95" height=".25" viewBox="5 -72.8 66.6 74" preserveAspectRatio="none"><text class="G">G</text></svg>
<svg x="23.525" y="-.81" width=".95" height=".51" viewBox="0.5 -71.6 71.2 71.6" preserveAspectRatio="none"><text class="A">A</text></svg>
<svg x="24.525" y="-.12" width=".95" height=".12" viewBox="0.5 -71.6 71.2 71.6" preserveAspectRatio="none"><text class="A">A</text></svg>
<svg x="24.525" y="-.23" width=".95" height=".11" viewBox="5 -72.8 66.6 74" preserveAspectRatio="none"><text class="G">G</text></svg>
<svg x="24.525" y="-.94" width=".95" height=".71" viewBox="2.4 -71.6 56.2 71.6" preserveAspectRatio="none"><text class="T">T</text></svg>
<svg x="25.525" y="-2" width=".95" height="2" viewBox="5 -72.8 66.6 74" preserveAspectRatio="none"><text class="G">G</text></svg>
<svg x="26.525" y="-.05" width=".95" height=".05" viewBox="5 -72.8 66.6 74" preserveAspectRatio="none"><text class="G">G</text></svg>
<svg x="26.525" y="-.28" width=".95" height=".23" viewBox="2.4 -71.6 56.2 71.6" preserveAspectRatio="none"><text class="T">T</text></svg>
<svg x="26.525" y="-.89" width=".95" height=".61" viewBox="0.5 -71.6 71.2 71.6" preserveAspectRatio="none"><text class="A">A</text></svg>
<svg x="27.525" y="-.02" width=".95" height=".02" viewBox="5 -72.8 66.6 74" preserveAspectRatio="none"><text class="G">G</text></svg>
<svg x="27.525" y="-.05" width=".95" height=".03" viewBox="5 -72.8 62 74" preserveAspectRatio="none"><text class="C">C</text></svg>
<svg x="27.525" y="-.11" width=".95" height=".06" viewBox="0.5 -71.6 71.2 71.6" preserveAspectRatio="none"><text class="A">A</text></svg>
<svg x="27.525" y="-.26" width=".95" height=".15" viewBox="2.4 -71.6 56.2 71.6" preserveAspectRatio="none"><text class="T">T</text></svg>
<svg x="28.525" y="-.05" width=".95" height=".05" viewBox="2.4 -71.6 56.2 71.6" preserveAspectRatio="none"><text class="T">T</text></svg>
<svg x="28.525" y="-.33" width=".95" height=".28" viewBox="0.5 -71.6 71.2 71.6" preserveAspectRatio="none"><text class="A">A</text></svg>
<svg x="28.525" y="-.76" width=".95" height=".43" viewBox="5 -72.8 66.6 74" preserveAspectRatio="none"><text class="G">G</text></svg>
<svg x="29.525" y="-.05" width=".95" height=".05" viewBox="5 -72.8 66.6 74" preserveAspectRatio="none"><text class="G">G</text></svg>
<svg x="29.525" y="-.28" width=".95" height=".23" viewBox="2.4 -71.6 56.2 71.6" preserveAspectRatio="none"><text class="T">T</text></svg>
<svg x="29.525" y="-.60" width=".95" height=".32" viewBox="0.5 -71.6 71.2 71.6" preserveAspectRatio="none"><text class="A">A</text></svg>
</g>
</g>

<!-- Panel 8 -->
<g transform="translate(3150,300)">
<text class="ttl" x="2" y="36.7" textLength="793" lengthAdjust="spacingAndGlyphs">pattern_1, n=1370; subpattern_7, ns=7</text>
<path class="tk" d="M120,242.8h4.5M120,194.68h4.5M120,146.55h4.5M120,98.43h4.5M120,50.3h4.5"/>
<text class="yl" x="114.5" y="247.5">0.0</text><text class="yl" x="114.5" y="199.38">0.5</text><text class="yl" x="114.5" y="151.25">1.0</text><text class="yl" x="114.5" y="103.13">1.5</text><text class="yl" x="114.5" y="55">2.0</text>
<path class="tk" d="M138,243v5M164,243v5M190,243v5M216,243v5M242,243v5M268,243v5M294,243v5M320,243v5M346,243v5M372,243v5M398,243v5M424,243v5M450,243v5M476,243v5M502,243v5M528,243v5M554,243v5M580,243v5M606,243v5M632,243v5M658,243v5M684,243v5M710,243v5M736,243v5M762,243v5M788,243v5M814,243v5M840,243v5M866,243v5M892,243v5"/>
<g class="xl"><text x="138" y="262.7">1</text><text x="164" y="262.7">2</text><text x="190" y="262.7">3</text><text x="216" y="262.7">4</text><text x="242" y="262.7">5</text><text x="268" y="262.7">6</text><text x="294" y="262.7">7</text><text x="320" y="262.7">8</text><text x="346" y="262.7">9</text><text x="372" y="262.7">10</text><text x="398" y="262.7">11</text><text x="424" y="262.7">12</text><text x="450" y="262.7">13</text><text x="476" y="262.7">14</text><text x="502" y="262.7">15</text><text x="528" y="262.7">16</text><text x="554" y="262.7">17</text><text x="580" y="262.7">18</text><text x="606" y="262.7">19</text><text x="632" y="262.7">20</text><text x="658" y="262.7">21</text><text x="684" y="262.7">22</text><text x="710" y="262.7">23</text><text x="736" y="262.7">24</text><text x="762" y="262.7">25</text><text x="788" y="262.7">26</text><text x="814" y="262.7">27</text><text x="840" y="262.7">28</text><text x="866" y="262.7">29</text><text x="892" y="262.7">30</text></g>
<g class="lg" transform="translate(112,242.8) scale(26,96.25)">
<svg x=".525" y="-.09" width=".95" height=".09" viewBox="5 -72.8 66.6 74" preserveAspectRatio="none"><text class="G">G</text></svg>
<svg x=".525" y="-.26" width=".95" height=".17" viewBox="2.4 -71.6 56.2 71.6" preserveAspectRatio="none"><text class="T">T</text></svg>
<svg x=".525" y="-.63" width=".95" height=".37" viewBox="0.5 -71.6 71.2 71.6" preserveAspectRatio="none"><text class="A">A</text></svg>
<svg x="1.525" y="-2" width=".95" height="2" viewBox="2.4 -71.6 56.2 71.6" preserveAspectRatio="none"><text class="T">T</text></svg>
<svg x="2.525" y="-.33" width=".95" height=".33" viewBox="2.4 -71.6 56.2 71.6" preserveAspectRatio="none"><text class="T">T</text></svg>
<svg x="2.525" y="-1.14" width=".95" height=".81" viewBox="5 -72.8 66.6 74" preserveAspectRatio="none"><text class="G">G</text></svg>
<svg x="3.525" y="-.12" width=".95" height=".12" viewBox="5 -72.8 62 74" preserveAspectRatio="none"><text class="C">C</text></svg>
<svg x="3.525" y="-.26" width=".95" height=".14" viewBox="5 -72.8 66.6 74" preserveAspectRatio="none"><text class="G">G</text></svg>
<svg x="3.525" y="-.46" width=".95" height=".20" viewBox="0.5 -71.6 71.2 71.6" preserveAspectRatio="none"><text class="A">A</text></svg>
<svg x="4.525" y="-.12" width=".95" height=".12" viewBox="5 -72.8 62 74" preserveAspectRatio="none"><text class="C">C</text></svg>
<svg x="4.525" y="-.33" width=".95" height=".21" viewBox="2.4 -71.6 56.2 71.6" preserveAspectRatio="none"><text class="T">T</text></svg>
<svg x="4.525" y="-.46" width=".95" height=".13" viewBox="0.5 -71.6 71.2 71.6" preserveAspectRatio="none"><text class="A">A</text></svg>
<svg x="5.525" y="-.33" width=".95" height=".33" viewBox="0.5 -71.6 71.2 71.6" preserveAspectRatio="none"><text class="A">A</text></svg>
<svg x="5.525" y="-1.14" width=".95" height=".81" viewBox="2.4 -71.6 56.2 71.6" preserveAspectRatio="none"><text class="T">T</text></svg>
<svg x="6.525" y="-.09" width=".95" height=".09" viewBox="5 -72.8 62 74" preserveAspectRatio="none"><text class="C">C</text></svg>
<svg x="6.525" y="-.25" width=".95" height=".16" viewBox="0.5 -71.6 71.2 71.6" preserveAspectRatio="none"><text class="A">A</text></svg>
<svg x="6.525" y="-.63" width=".95" height=".38" viewBox="5 -72.8 66.6 74" preserveAspectRatio="none"><text class="G">G</text></svg>
<svg x="7.525" y="-.13" width=".95" height=".13" viewBox="5 -72.8 66.6 74" preserveAspectRatio="none"><text class="G">G</text></svg>
<svg x="7.525" y="-.23" width=".95" height=".10" viewBox="2.4 -71.6 56.2 71.6" preserveAspectRatio="none"><text class="T">T</text></svg>
<svg x="7.525" y="-.46" width=".95" height=".23" viewBox="0.5 -71.6 71.2 71.6" preserveAspectRatio="none"><text class="A">A</text></svg>
<svg x="8.525" y="-.12" width=".95" height=".12" viewBox="5 -72.8 62 74" preserveAspectRatio="none"><text class="C">C</text></svg>
<svg x="8.525" y="-.25" width=".95" height=".13" viewBox="5 -72.8 66.6 74" preserveAspectRatio="none"><text class="G">G</text></svg>
<svg x="8.525" y="-.45" width=".95" height=".20" viewBox="2.4 -71.6 56.2 71.6" preserveAspectRatio="none"><text class="T">T</text></svg>
<svg x="9.525" y="-.12" width=".95" height=".12" viewBox="0.5 -71.6 71.2 71.6" preserveAspectRatio="none"><text class="A">A</text></svg>
<svg x="9.525" y="-.24" width=".95" height=".12" viewBox="5 -72.8 62 74" preserveAspectRatio="none"><text class="C">C</text></svg>
<svg x="9.525" y="-.45" width=".95" height=".21" viewBox="5 -72.8 66.6 74" preserveAspectRatio="none"><text class="G">G</text></svg>
<svg x="10.525" y="-.33" width=".95" height=".33" viewBox="2.4 -71.6 56.2 71.6" preserveAspectRatio="none"><text class="T">T</text></svg>
<svg x="10.525" y="-1.14" width=".95" height=".81" viewBox="5 -72.8 66.6 74" preserveAspectRatio="none"><text class="G">G</text></svg>
<svg x="11.525" y="-.43" width=".95" height=".43" viewBox="2.4 -71.6 56.2 71.6" preserveAspectRatio="none"><text class="T">T</text></svg>
<svg x="11.525" y="-1.02" width=".95" height=".59" viewBox="0.5 -71.6 71.2 71.6" preserveAspectRatio="none"><text class="A">A</text></svg>
<svg x="12.525" y="-2" width=".95" height="2" viewBox="2.4 -71.6 56.2 71.6" preserveAspectRatio="none"><text class="T">T</text></svg>
<svg x="13.525" y="-2" width=".95" height="2" viewBox="5 -72.8 66.6 74" preserveAspectRatio="none"><text class="G">G</text></svg>
<svg x="14.525" y="-2" width=".95" height="2" viewBox="0.5 -71.6 71.2 71.6" preserveAspectRatio="none"><text class="A">A</text></svg>
<svg x="15.525" y="-.33" width=".95" height=".33" viewBox="2.4 -71.6 56.2 71.6" preserveAspectRatio="none"><text class="T">T</text></svg>
<svg x="15.525" y="-1.14" width=".95" height=".81" viewBox="5 -72.8 66.6 74" preserveAspectRatio="none"><text class="G">G</text></svg>
<svg x="16.525" y="-.33" width=".95" height=".33" viewBox="5 -72.8 62 74" preserveAspectRatio="none"><text class="C">C</text></svg>
<svg x="16.525" y="-1.14" width=".95" height=".81" viewBox="0.5 -71.6 71.2 71.6" preserveAspectRatio="none"><text class="A">A</text></svg>
<svg x="17.525" y="-2" width=".95" height="2" viewBox="2.4 -71.6 56.2 71.6" preserveAspectRatio="none"><text class="T">T</text></svg>
<svg x="18.525" y="-2" width=".95" height="2" viewBox="5 -72.8 62 74" preserveAspectRatio="none"><text class="C">C</text></svg>
<svg x="19.525" y="-2" width=".95" height="2" viewBox="0.5 -71.6 71.2 71.6" preserveAspectRatio="none"><text class="A">A</text></svg>
<svg x="20.525" y="-.20" width=".95" height=".20" viewBox="5 -72.8 62 74" preserveAspectRatio="none"><text class="C">C</text></svg>
<svg x="20.525" y="-1.41" width=".95" height="1.21" viewBox="2.4 -71.6 56.2 71.6" preserveAspectRatio="none"><text class="T">T</text></svg>
<svg x="21.525" y="-.08" width=".95" height=".08" viewBox="5 -72.8 66.6 74" preserveAspectRatio="none"><text class="G">G</text></svg>
<svg x="21.525" y="-.33" width=".95" height=".25" viewBox="5 -72.8 62 74" preserveAspectRatio="none"><text class="C">C</text></svg>
<svg x="21.525" y="-.56" width=".95" height=".23" viewBox="2.4 -71.6 56.2 71.6" preserveAspectRatio="none"><text class="T">T</text></svg>
<svg x="22.525" y="-.33" width=".95" height=".33" viewBox="5 -72.8 62 74" preserveAspectRatio="none"><text class="C">C</text></svg>
<svg x="22.525" y="-1.14" width=".95" height=".81" viewBox="0.5 -71.6 71.2 71.6" preserveAspectRatio="none"><text class="A">A</text></svg>
<svg x="23.525" y="-.33" width=".95" height=".33" viewBox="2.4 -71.6 56.2 71.6" preserveAspectRatio="none"><text class="T">T</text></svg>
<svg x="23.525" y="-1.14" width=".95" height=".81" viewBox="5 -72.8 62 74" preserveAspectRatio="none"><text class="C">C</text></svg>
<svg x="24.525" y="-.14" width=".95" height=".14" viewBox="0.5 -71.6 71.2 71.6" preserveAspectRatio="none"><text class="A">A</text></svg>
<svg x="24.525" y="-.26" width=".95" height=".12" viewBox="2.4 -71.6 56.2 71.6" preserveAspectRatio="none"><text class="T">T</text></svg>
<svg x="24.525" y="-.45" width=".95" height=".19" viewBox="5 -72.8 62 74" preserveAspectRatio="none"><text class="C">C</text></svg>
<svg x="25.525" y="-.43" width=".95" height=".43" viewBox="0.5 -71.6 71.2 71.6" preserveAspectRatio="none"><text class="A">A</text></svg>
<svg x="25.525" y="-1.02" width=".95" height=".59" viewBox="5 -72.8 62 74" preserveAspectRatio="none"><text class="C">C</text></svg>
<svg x="26.525" y="-2" width=".95" height="2" viewBox="5 -72.8 62 74" preserveAspectRatio="none"><text class="C">C</text></svg>
<svg x="27.525" y="-.13" width=".95" height=".13" viewBox="0.5 -71.6 71.2 71.6" preserveAspectRatio="none"><text class="A">A</text></svg>
<svg x="27.525" y="-.24" width=".95" height=".11" viewBox="5 -72.8 62 74" preserveAspectRatio="none"><text class="C">C</text></svg>
<svg x="27.525" y="-.45" width=".95" height=".21" viewBox="2.4 -71.6 56.2 71.6" preserveAspectRatio="none"><text class="T">T</text></svg>
<svg x="28.525" y="-.13" width=".95" height=".13" viewBox="0.5 -71.6 71.2 71.6" preserveAspectRatio="none"><text class="A">A</text></svg>
<svg x="28.525" y="-.24" width=".95" height=".11" viewBox="5 -72.8 62 74" preserveAspectRatio="none"><text class="C">C</text></svg>
<svg x="28.525" y="-.45" width=".95" height=".21" viewBox="2.4 -71.6 56.2 71.6" preserveAspectRatio="none"><text class="T">T</text></svg>
<svg x="29.525" y="-.06" width=".95" height=".06" viewBox="5 -72.8 62 74" preserveAspectRatio="none"><text class="C">C</text></svg>
<svg x="29.525" y="-.31" width=".95" height=".25" viewBox="0.5 -71.6 71.2 71.6" preserveAspectRatio="none"><text class="A">A</text></svg>
<svg x="29.525" y="-.56" width=".95" height=".25" viewBox="2.4 -71.6 56.2 71.6" preserveAspectRatio="none"><text class="T">T</text></svg>
</g>
</g>

<!-- Panel 9 -->
<g transform="translate(0,600)">
<text class="ttl" x="2" y="36.7" textLength="792" lengthAdjust="spacingAndGlyphs">pattern_1, n=1370; subpattern_8, ns=4</text>
<path class="tk" d="M120,242.8h4.5M120,194.68h4.5M120,146.55h4.5M120,98.43h4.5M120,50.3h4.5"/>
<text class="yl" x="114.5" y="247.5">0.0</text><text class="yl" x="114.5" y="199.38">0.5</text><text class="yl" x="114.5" y="151.25">1.0</text><text class="yl" x="114.5" y="103.13">1.5</text><text class="yl" x="114.5" y="55">2.0</text>
<path class="tk" d="M138,243v5M164,243v5M190,243v5M216,243v5M242,243v5M268,243v5M294,243v5M320,243v5M346,243v5M372,243v5M398,243v5M424,243v5M450,243v5M476,243v5M502,243v5M528,243v5M554,243v5M580,243v5M606,243v5M632,243v5M658,243v5M684,243v5M710,243v5M736,243v5M762,243v5M788,243v5M814,243v5M840,243v5M866,243v5M892,243v5"/>
<g class="xl"><text x="138" y="262.7">1</text><text x="164" y="262.7">2</text><text x="190" y="262.7">3</text><text x="216" y="262.7">4</text><text x="242" y="262.7">5</text><text x="268" y="262.7">6</text><text x="294" y="262.7">7</text><text x="320" y="262.7">8</text><text x="346" y="262.7">9</text><text x="372" y="262.7">10</text><text x="398" y="262.7">11</text><text x="424" y="262.7">12</text><text x="450" y="262.7">13</text><text x="476" y="262.7">14</text><text x="502" y="262.7">15</text><text x="528" y="262.7">16</text><text x="554" y="262.7">17</text><text x="580" y="262.7">18</text><text x="606" y="262.7">19</text><text x="632" y="262.7">20</text><text x="658" y="262.7">21</text><text x="684" y="262.7">22</text><text x="710" y="262.7">23</text><text x="736" y="262.7">24</text><text x="762" y="262.7">25</text><text x="788" y="262.7">26</text><text x="814" y="262.7">27</text><text x="840" y="262.7">28</text><text x="866" y="262.7">29</text><text x="892" y="262.7">30</text></g>
<g class="lg" transform="translate(112,242.8) scale(26,96.25)">
<svg x=".525" y="-.12" width=".95" height=".12" viewBox="5 -72.8 66.6 74" preserveAspectRatio="none"><text class="G">G</text></svg>
<svg x=".525" y="-.23" width=".95" height=".11" viewBox="2.4 -71.6 56.2 71.6" preserveAspectRatio="none"><text class="T">T</text></svg>
<svg x=".525" y="-.51" width=".95" height=".28" viewBox="0.5 -71.6 71.2 71.6" preserveAspectRatio="none"><text class="A">A</text></svg>
<svg x="1.525" y="-.12" width=".95" height=".12" viewBox="0.5 -71.6 71.2 71.6" preserveAspectRatio="none"><text class="A">A</text></svg>
<svg x="1.525" y="-.23" width=".95" height=".11" viewBox="5 -72.8 66.6 74" preserveAspectRatio="none"><text class="G">G</text></svg>
<svg x="1.525" y="-.51" width=".95" height=".28" viewBox="2.4 -71.6 56.2 71.6" preserveAspectRatio="none"><text class="T">T</text></svg>
<svg x="2.525" y="-.30" width=".95" height=".30" viewBox="5 -72.8 62 74" preserveAspectRatio="none"><text class="C">C</text></svg>
<svg x="2.525" y="-1.2" width=".95" height=".90" viewBox="5 -72.8 66.6 74" preserveAspectRatio="none"><text class="G">G</text></svg>
<svg x="3.525" y="-2" width=".95" height="2" viewBox="2.4 -71.6 56.2 71.6" preserveAspectRatio="none"><text class="T">T</text></svg>
<svg x="4.525" y="-2" width=".95" height="2" viewBox="5 -72.8 62 74" preserveAspectRatio="none"><text class="C">C</text></svg>
<svg x="5.525" y="-2" width=".95" height="2" viewBox="0.5 -71.6 71.2 71.6" preserveAspectRatio="none"><text class="A">A</text></svg>
<svg x="6.525" y="-2" width=".95" height="2" viewBox="5 -72.8 66.6 74" preserveAspectRatio="none"><text class="G">G</text></svg>
<svg x="7.525" y="-2" width=".95" height="2" viewBox="0.5 -71.6 71.2 71.6" preserveAspectRatio="none"><text class="A">A</text></svg>
<svg x="8.525" y="-2" width=".95" height="2" viewBox="5 -72.8 66.6 74" preserveAspectRatio="none"><text class="G">G</text></svg>
<svg x="9.525" y="-2" width=".95" height="2" viewBox="5 -72.8 66.6 74" preserveAspectRatio="none"><text class="G">G</text></svg>
<svg x="10.525" y="-2" width=".95" height="2" viewBox="5 -72.8 66.6 74" preserveAspectRatio="none"><text class="G">G</text></svg>
<svg x="11.525" y="-2" width=".95" height="2" viewBox="0.5 -71.6 71.2 71.6" preserveAspectRatio="none"><text class="A">A</text></svg>
<svg x="12.525" y="-2" width=".95" height="2" viewBox="5 -72.8 66.6 74" preserveAspectRatio="none"><text class="G">G</text></svg>
<svg x="13.525" y="-2" width=".95" height="2" viewBox="5 -72.8 66.6 74" preserveAspectRatio="none"><text class="G">G</text></svg>
<svg x="14.525" y="-2" width=".95" height="2" viewBox="0.5 -71.6 71.2 71.6" preserveAspectRatio="none"><text class="A">A</text></svg>
<svg x="15.525" y="-2" width=".95" height="2" viewBox="5 -72.8 66.6 74" preserveAspectRatio="none"><text class="G">G</text></svg>
<svg x="16.525" y="-2" width=".95" height="2" viewBox="5 -72.8 66.6 74" preserveAspectRatio="none"><text class="G">G</text></svg>
<svg x="17.525" y="-2" width=".95" height="2" viewBox="2.4 -71.6 56.2 71.6" preserveAspectRatio="none"><text class="T">T</text></svg>
<svg x="18.525" y="-2" width=".95" height="2" viewBox="5 -72.8 62 74" preserveAspectRatio="none"><text class="C">C</text></svg>
<svg x="19.525" y="-2" width=".95" height="2" viewBox="0.5 -71.6 71.2 71.6" preserveAspectRatio="none"><text class="A">A</text></svg>
<svg x="20.525" y="-.30" width=".95" height=".30" viewBox="2.4 -71.6 56.2 71.6" preserveAspectRatio="none"><text class="T">T</text></svg>
<svg x="20.525" y="-1.2" width=".95" height=".90" viewBox="5 -72.8 66.6 74" preserveAspectRatio="none"><text class="G">G</text></svg>
<svg x="21.525" y="-2" width=".95" height="2" viewBox="0.5 -71.6 71.2 71.6" preserveAspectRatio="none"><text class="A">A</text></svg>
<svg x="22.525" y="-2" width=".95" height="2" viewBox="5 -72.8 66.6 74" preserveAspectRatio="none"><text class="G">G</text></svg>
<svg x="23.525" y="-2" width=".95" height="2" viewBox="5 -72.8 66.6 74" preserveAspectRatio="none"><text class="G">G</text></svg>
<svg x="24.525" y="-2" width=".95" height="2" viewBox="5 -72.8 66.6 74" preserveAspectRatio="none"><text class="G">G</text></svg>
<svg x="25.525" y="-.30" width=".95" height=".30" viewBox="0.5 -71.6 71.2 71.6" preserveAspectRatio="none"><text class="A">A</text></svg>
<svg x="25.525" y="-1.2" width=".95" height=".90" viewBox="5 -72.8 66.6 74" preserveAspectRatio="none"><text class="G">G</text></svg>
<svg x="26.525" y="-.30" width=".95" height=".30" viewBox="5 -72.8 66.6 74" preserveAspectRatio="none"><text class="G">G</text></svg>
<svg x="26.525" y="-1.2" width=".95" height=".90" viewBox="0.5 -71.6 71.2 71.6" preserveAspectRatio="none"><text class="A">A</text></svg>
<svg x="27.525" y="-.12" width=".95" height=".12" viewBox="5 -72.8 66.6 74" preserveAspectRatio="none"><text class="G">G</text></svg>
<svg x="27.525" y="-.23" width=".95" height=".11" viewBox="2.4 -71.6 56.2 71.6" preserveAspectRatio="none"><text class="T">T</text></svg>
<svg x="27.525" y="-.51" width=".95" height=".28" viewBox="0.5 -71.6 71.2 71.6" preserveAspectRatio="none"><text class="A">A</text></svg>
<svg x="28.525" y="-.51" width=".95" height=".51" viewBox="0.5 -71.6 71.2 71.6" preserveAspectRatio="none"><text class="A">A</text></svg>
<svg x="28.525" y="-1.01" width=".95" height=".50" viewBox="2.4 -71.6 56.2 71.6" preserveAspectRatio="none"><text class="T">T</text></svg>
<svg x="29.525" y="-2" width=".95" height="2" viewBox="5 -72.8 66.6 74" preserveAspectRatio="none"><text class="G">G</text></svg>
</g>
</g>

<!-- Panel 10 -->
<g transform="translate(1050,600)">
<text class="ttl" x="2" y="36.7" textLength="791" lengthAdjust="spacingAndGlyphs">pattern_1, n=1370; subpattern_9, ns=2</text>
<path class="tk" d="M120,242.8h4.5M120,194.68h4.5M120,146.55h4.5M120,98.43h4.5M120,50.3h4.5"/>
<text class="yl" x="114.5" y="247.5">0.0</text><text class="yl" x="114.5" y="199.38">0.5</text><text class="yl" x="114.5" y="151.25">1.0</text><text class="yl" x="114.5" y="103.13">1.5</text><text class="yl" x="114.5" y="55">2.0</text>
<path class="tk" d="M138,243v5M164,243v5M190,243v5M216,243v5M242,243v5M268,243v5M294,243v5M320,243v5M346,243v5M372,243v5M398,243v5M424,243v5M450,243v5M476,243v5M502,243v5M528,243v5M554,243v5M580,243v5M606,243v5M632,243v5M658,243v5M684,243v5M710,243v5M736,243v5M762,243v5M788,243v5M814,243v5M840,243v5M866,243v5M892,243v5"/>
<g class="xl"><text x="138" y="262.7">1</text><text x="164" y="262.7">2</text><text x="190" y="262.7">3</text><text x="216" y="262.7">4</text><text x="242" y="262.7">5</text><text x="268" y="262.7">6</text><text x="294" y="262.7">7</text><text x="320" y="262.7">8</text><text x="346" y="262.7">9</text><text x="372" y="262.7">10</text><text x="398" y="262.7">11</text><text x="424" y="262.7">12</text><text x="450" y="262.7">13</text><text x="476" y="262.7">14</text><text x="502" y="262.7">15</text><text x="528" y="262.7">16</text><text x="554" y="262.7">17</text><text x="580" y="262.7">18</text><text x="606" y="262.7">19</text><text x="632" y="262.7">20</text><text x="658" y="262.7">21</text><text x="684" y="262.7">22</text><text x="710" y="262.7">23</text><text x="736" y="262.7">24</text><text x="762" y="262.7">25</text><text x="788" y="262.7">26</text><text x="814" y="262.7">27</text><text x="840" y="262.7">28</text><text x="866" y="262.7">29</text><text x="892" y="262.7">30</text></g>
<g class="lg" transform="translate(112,242.8) scale(26,96.25)">
<svg x=".525" y="-2" width=".95" height="2" viewBox="5 -72.8 66.6 74" preserveAspectRatio="none"><text class="G">G</text></svg>
<svg x="1.525" y="-2" width=".95" height="2" viewBox="0.5 -71.6 71.2 71.6" preserveAspectRatio="none"><text class="A">A</text></svg>
<svg x="2.525" y="-2" width=".95" height="2" viewBox="2.4 -71.6 56.2 71.6" preserveAspectRatio="none"><text class="T">T</text></svg>
<svg x="3.525" y="-2" width=".95" height="2" viewBox="5 -72.8 66.6 74" preserveAspectRatio="none"><text class="G">G</text></svg>
<svg x="4.525" y="-2" width=".95" height="2" viewBox="2.4 -71.6 56.2 71.6" preserveAspectRatio="none"><text class="T">T</text></svg>
<svg x="5.525" y="-2" width=".95" height="2" viewBox="2.4 -71.6 56.2 71.6" preserveAspectRatio="none"><text class="T">T</text></svg>
<svg x="6.525" y="-2" width=".95" height="2" viewBox="5 -72.8 66.6 74" preserveAspectRatio="none"><text class="G">G</text></svg>
<svg x="7.525" y="-2" width=".95" height="2" viewBox="2.4 -71.6 56.2 71.6" preserveAspectRatio="none"><text class="T">T</text></svg>
<svg x="8.525" y="-2" width=".95" height="2" viewBox="5 -72.8 62 74" preserveAspectRatio="none"><text class="C">C</text></svg>
<svg x="9.525" y="-2" width=".95" height="2" viewBox="5 -72.8 62 74" preserveAspectRatio="none"><text class="C">C</text></svg>
<svg x="10.525" y="-2" width=".95" height="2" viewBox="2.4 -71.6 56.2 71.6" preserveAspectRatio="none"><text class="T">T</text></svg>
<svg x="11.525" y="-2" width=".95" height="2" viewBox="0.5 -71.6 71.2 71.6" preserveAspectRatio="none"><text class="A">A</text></svg>
<svg x="12.525" y="-2" width=".95" height="2" viewBox="2.4 -71.6 56.2 71.6" preserveAspectRatio="none"><text class="T">T</text></svg>
<svg x="13.525" y="-2" width=".95" height="2" viewBox="5 -72.8 66.6 74" preserveAspectRatio="none"><text class="G">G</text></svg>
<svg x="14.525" y="-2" width=".95" height="2" viewBox="0.5 -71.6 71.2 71.6" preserveAspectRatio="none"><text class="A">A</text></svg>
<svg x="15.525" y="-2" width=".95" height="2" viewBox="5 -72.8 66.6 74" preserveAspectRatio="none"><text class="G">G</text></svg>
<svg x="16.525" y="-2" width=".95" height="2" viewBox="5 -72.8 66.6 74" preserveAspectRatio="none"><text class="G">G</text></svg>
<svg x="17.525" y="-2" width=".95" height="2" viewBox="5 -72.8 62 74" preserveAspectRatio="none"><text class="C">C</text></svg>
<svg x="18.525" y="-2" width=".95" height="2" viewBox="5 -72.8 62 74" preserveAspectRatio="none"><text class="C">C</text></svg>
<svg x="19.525" y="-2" width=".95" height="2" viewBox="0.5 -71.6 71.2 71.6" preserveAspectRatio="none"><text class="A">A</text></svg>
<svg x="20.525" y="-2" width=".95" height="2" viewBox="2.4 -71.6 56.2 71.6" preserveAspectRatio="none"><text class="T">T</text></svg>
<svg x="21.525" y="-2" width=".95" height="2" viewBox="5 -72.8 66.6 74" preserveAspectRatio="none"><text class="G">G</text></svg>
<svg x="22.525" y="-2" width=".95" height="2" viewBox="2.4 -71.6 56.2 71.6" preserveAspectRatio="none"><text class="T">T</text></svg>
<svg x="23.525" y="-2" width=".95" height="2" viewBox="5 -72.8 66.6 74" preserveAspectRatio="none"><text class="G">G</text></svg>
<svg x="24.525" y="-2" width=".95" height="2" viewBox="0.5 -71.6 71.2 71.6" preserveAspectRatio="none"><text class="A">A</text></svg>
<svg x="25.525" y="-2" width=".95" height="2" viewBox="5 -72.8 66.6 74" preserveAspectRatio="none"><text class="G">G</text></svg>
<svg x="26.525" y="-2" width=".95" height="2" viewBox="0.5 -71.6 71.2 71.6" preserveAspectRatio="none"><text class="A">A</text></svg>
<svg x="27.525" y="-2" width=".95" height="2" viewBox="5 -72.8 66.6 74" preserveAspectRatio="none"><text class="G">G</text></svg>
<svg x="28.525" y="-2" width=".95" height="2" viewBox="0.5 -71.6 71.2 71.6" preserveAspectRatio="none"><text class="A">A</text></svg>
<svg x="29.525" y="-2" width=".95" height="2" viewBox="5 -72.8 66.6 74" preserveAspectRatio="none"><text class="G">G</text></svg>
</g>
</g>
</svg>
</body></html>
